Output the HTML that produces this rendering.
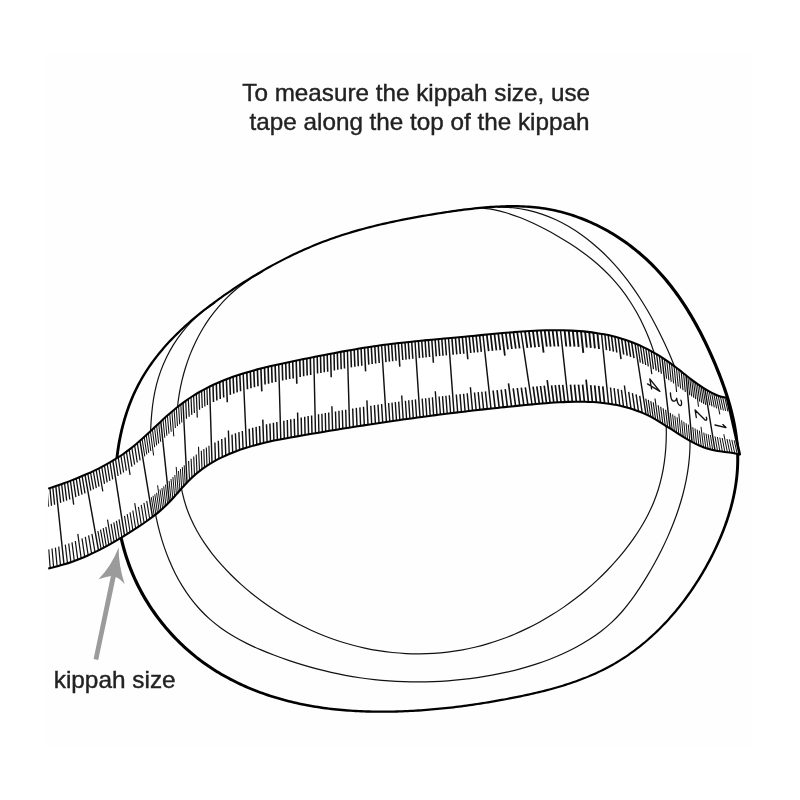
<!DOCTYPE html>
<html><head><meta charset="utf-8"><title>Kippah size</title>
<style>html,body{margin:0;padding:0;background:#fff;}body{width:800px;height:800px;overflow:hidden;font-family:"Liberation Sans",sans-serif;}svg{display:block;will-change:transform;}</style>
</head><body>
<svg width="800" height="800" viewBox="0 0 800 800">
<rect x="0" y="0" width="800" height="800" fill="#ffffff"/>
<rect x="46" y="52" width="706" height="696" fill="#fefefe"/>
<path d="M215.39 302.58C213.30 304.05 206.83 308.24 202.89 311.38C198.95 314.51 195.23 317.88 191.74 321.40C188.25 324.92 184.98 328.65 181.94 332.51C178.90 336.37 176.09 340.41 173.51 344.56C170.92 348.70 168.57 353.01 166.44 357.40C164.31 361.78 162.41 366.31 160.74 370.89C159.08 375.47 157.64 380.15 156.43 384.88C155.22 389.60 154.27 394.41 153.48 399.23C152.69 404.05 152.15 408.94 151.69 413.82C151.22 418.70 150.94 423.61 150.69 428.51C150.43 433.41 150.26 438.31 150.15 443.21C150.05 448.11 150.01 453.01 150.08 457.92C150.14 462.82 150.28 467.73 150.55 472.64C150.81 477.56 151.17 482.49 151.66 487.43C152.16 492.36 152.76 497.32 153.51 502.25C154.25 507.18 155.11 512.12 156.12 517.01C157.12 521.90 158.26 526.79 159.54 531.60C160.83 536.41 162.25 541.20 163.82 545.90C165.40 550.60 167.12 555.24 169.00 559.79C170.88 564.33 172.91 568.81 175.11 573.16C177.32 577.51 179.67 581.77 182.21 585.89C184.74 590.01 187.44 594.03 190.32 597.88C193.21 601.73 196.26 605.45 199.50 609.00C202.75 612.54 206.17 615.93 209.79 619.13C213.40 622.33 217.23 625.34 221.19 628.19C225.16 631.04 229.32 633.70 233.58 636.22C237.83 638.75 242.25 641.10 246.73 643.34C251.20 645.58 255.80 647.67 260.42 649.66C265.04 651.65 269.75 653.51 274.44 655.29C279.13 657.07 283.86 658.74 288.57 660.34C293.28 661.94 297.98 663.45 302.70 664.88C307.41 666.31 312.13 667.65 316.86 668.90C321.59 670.15 326.32 671.32 331.08 672.39C335.84 673.46 340.60 674.45 345.39 675.34C350.19 676.23 355.00 677.03 359.83 677.75C364.65 678.46 369.50 679.08 374.36 679.61C379.21 680.13 384.09 680.57 388.97 680.92C393.85 681.27 398.75 681.53 403.65 681.70C408.55 681.87 413.46 681.95 418.37 681.94C423.28 681.92 428.20 681.82 433.12 681.64C438.03 681.45 442.95 681.17 447.87 680.80C452.79 680.44 457.70 679.98 462.61 679.44C467.52 678.89 472.43 678.26 477.33 677.54C482.22 676.82 487.12 676.01 491.99 675.11C496.87 674.21 501.74 673.23 506.58 672.15C511.41 671.06 516.24 669.88 521.02 668.59C525.80 667.29 530.56 665.90 535.26 664.38C539.96 662.86 544.62 661.23 549.22 659.46C553.81 657.69 558.36 655.80 562.83 653.77C567.31 651.73 571.72 649.57 576.04 647.25C580.36 644.93 584.63 642.48 588.76 639.85C592.88 637.23 596.92 634.45 600.78 631.50C604.64 628.55 608.37 625.43 611.89 622.14C615.41 618.85 618.74 615.35 621.93 611.74C625.11 608.12 628.11 604.33 631.02 600.44C633.93 596.56 636.69 592.52 639.39 588.43C642.10 584.35 644.70 580.15 647.25 575.90C649.80 571.66 652.29 567.34 654.69 562.98C657.09 558.61 659.42 554.18 661.65 549.71C663.87 545.23 666.01 540.70 668.03 536.13C670.06 531.57 671.98 526.95 673.77 522.30C675.56 517.65 677.25 512.96 678.78 508.24C680.31 503.53 681.73 498.78 682.97 494.01C684.22 489.25 685.33 484.45 686.27 479.65C687.21 474.84 687.99 470.02 688.59 465.19C689.18 460.36 689.61 455.52 689.84 450.68C690.07 445.85 690.12 441.00 689.95 436.17C689.79 431.33 689.41 426.50 688.84 421.68C688.28 416.87 687.49 412.06 686.55 407.27C685.61 402.49 684.48 397.71 683.21 392.97C681.94 388.22 680.49 383.50 678.93 378.80C677.38 374.11 675.66 369.44 673.86 364.81C672.06 360.18 670.12 355.58 668.12 351.03C666.11 346.48 664.00 341.96 661.83 337.49C659.67 333.02 657.43 328.59 655.12 324.23C652.82 319.86 650.45 315.54 647.99 311.28C645.52 307.03 642.99 302.83 640.35 298.70C637.71 294.58 634.98 290.52 632.14 286.54C629.29 282.56 626.35 278.65 623.28 274.83C620.21 271.02 617.02 267.27 613.71 263.64C610.40 260.01 606.96 256.45 603.41 253.05C599.86 249.64 596.18 246.34 592.40 243.20C588.61 240.07 584.71 237.06 580.70 234.25C576.70 231.43 572.57 228.77 568.35 226.32C564.13 223.87 559.80 221.60 555.37 219.56C550.94 217.53 546.40 215.69 541.78 214.12C537.15 212.55 532.42 211.19 527.60 210.13C522.79 209.06 517.87 208.24 512.87 207.73C507.88 207.22 500.16 207.17 497.61 207.06" fill="none" stroke="#111" stroke-width="1.20"/>
<path d="M262.39 271.70C260.30 272.94 253.85 276.50 249.84 279.14C245.83 281.79 241.99 284.61 238.31 287.57C234.64 290.53 231.14 293.65 227.80 296.90C224.47 300.15 221.30 303.54 218.30 307.05C215.30 310.56 212.46 314.21 209.79 317.96C207.12 321.71 204.62 325.58 202.27 329.53C199.93 333.49 197.75 337.55 195.73 341.69C193.71 345.83 191.85 350.07 190.15 354.36C188.46 358.66 186.92 363.04 185.54 367.46C184.16 371.89 182.94 376.38 181.87 380.91C180.80 385.44 179.90 390.03 179.14 394.63C178.39 399.24 177.79 403.89 177.34 408.55C176.89 413.21 176.61 417.89 176.44 422.59C176.27 427.28 176.25 431.99 176.33 436.70C176.41 441.42 176.62 446.14 176.90 450.87C177.19 455.59 177.56 460.33 178.05 465.04C178.53 469.74 179.07 474.47 179.79 479.12C180.51 483.77 181.33 488.41 182.37 492.94C183.41 497.47 184.61 501.95 186.05 506.31C187.49 510.67 189.16 514.93 191.01 519.09C192.86 523.26 194.93 527.32 197.15 531.29C199.37 535.27 201.79 539.14 204.34 542.93C206.90 546.72 209.62 550.42 212.46 554.04C215.30 557.66 218.29 561.19 221.36 564.64C224.44 568.09 227.64 571.47 230.92 574.76C234.21 578.05 237.60 581.27 241.06 584.39C244.53 587.52 248.10 590.56 251.74 593.51C255.38 596.46 259.11 599.32 262.90 602.09C266.70 604.85 270.58 607.53 274.52 610.10C278.46 612.67 282.47 615.15 286.54 617.52C290.61 619.89 294.74 622.16 298.93 624.32C303.11 626.47 307.35 628.53 311.63 630.47C315.91 632.41 320.25 634.24 324.61 635.95C328.98 637.66 333.39 639.25 337.83 640.73C342.27 642.20 346.74 643.55 351.24 644.78C355.73 646.01 360.26 647.11 364.80 648.09C369.34 649.07 373.91 649.93 378.49 650.66C383.06 651.39 387.66 652.00 392.26 652.48C396.85 652.96 401.47 653.31 406.08 653.53C410.69 653.76 415.31 653.86 419.92 653.83C424.53 653.80 429.15 653.64 433.75 653.35C438.35 653.07 442.94 652.65 447.52 652.10C452.10 651.56 456.67 650.88 461.22 650.07C465.76 649.26 470.29 648.32 474.79 647.25C479.29 646.18 483.77 644.98 488.22 643.65C492.66 642.32 497.08 640.86 501.46 639.29C505.83 637.71 510.18 636.01 514.48 634.20C518.78 632.39 523.04 630.45 527.25 628.41C531.46 626.37 535.63 624.21 539.74 621.95C543.85 619.69 547.91 617.32 551.90 614.85C555.90 612.38 559.85 609.80 563.72 607.13C567.59 604.47 571.41 601.69 575.15 598.84C578.89 595.98 582.57 593.02 586.16 589.98C589.76 586.94 593.28 583.81 596.72 580.60C600.16 577.39 603.53 574.10 606.80 570.73C610.07 567.36 613.26 563.91 616.35 560.38C619.44 556.86 622.46 553.27 625.35 549.60C628.23 545.93 631.03 542.19 633.69 538.38C636.34 534.57 638.88 530.69 641.26 526.73C643.64 522.78 645.90 518.76 647.97 514.66C650.04 510.57 651.97 506.40 653.70 502.17C655.43 497.94 656.98 493.63 658.34 489.26C659.70 484.89 660.86 480.45 661.85 475.96C662.84 471.48 663.64 466.93 664.29 462.35C664.94 457.77 665.42 453.14 665.75 448.50C666.09 443.85 666.26 439.17 666.30 434.48C666.35 429.79 666.25 425.08 666.03 420.38C665.82 415.68 665.47 410.96 665.01 406.27C664.55 401.57 663.97 396.88 663.27 392.22C662.56 387.56 661.74 382.90 660.79 378.29C659.84 373.68 658.76 369.10 657.56 364.56C656.35 360.02 655.03 355.52 653.57 351.08C652.11 346.64 650.52 342.24 648.80 337.92C647.08 333.59 645.23 329.32 643.24 325.14C641.26 320.95 639.14 316.83 636.88 312.80C634.63 308.78 632.24 304.83 629.71 300.98C627.18 297.14 624.51 293.38 621.70 289.73C618.89 286.09 615.95 282.55 612.86 279.13C609.76 275.71 606.52 272.40 603.16 269.22C599.80 266.03 596.29 262.97 592.68 260.01C589.08 257.05 585.35 254.20 581.55 251.45C577.74 248.70 573.83 246.07 569.87 243.52C565.91 240.97 561.85 238.52 557.77 236.16C553.69 233.79 549.54 231.52 545.37 229.34C541.21 227.15 537.00 225.02 532.77 223.05C528.54 221.08 524.28 219.19 519.98 217.51C515.68 215.82 511.35 214.26 506.97 212.95C502.60 211.63 498.19 210.48 493.74 209.62C489.29 208.76 482.52 208.08 480.27 207.77" fill="none" stroke="#111" stroke-width="1.20"/>
<path d="M117.01 490.10L116.97 487.38L116.95 484.66L116.97 481.94L117.01 479.22L117.09 476.50L117.19 473.78L117.32 471.06L117.49 468.34L117.68 465.63L117.90 462.91L118.15 460.20L118.44 457.49L118.75 454.79L119.10 452.09L119.47 449.40L119.88 446.71L120.31 444.03L120.78 441.36L121.28 438.69L121.82 436.03L122.38 433.38L122.98 430.74L123.60 428.11L124.27 425.50L124.96 422.89L125.69 420.30L126.44 417.71L127.24 415.14L128.06 412.58L128.92 410.04L129.81 407.52L130.74 405.00L131.70 402.50L132.69 400.02L133.72 397.56L134.78 395.12L135.88 392.69L137.01 390.28L138.18 387.89L139.38 385.52L140.61 383.17L141.88 380.84L143.19 378.54L144.53 376.25L145.91 373.99L147.32 371.74L148.77 369.52L150.24 367.31L151.75 365.13L153.29 362.97L154.86 360.82L156.46 358.70L158.09 356.59L159.75 354.50L161.44 352.43L163.15 350.38L164.89 348.35L166.66 346.34L168.46 344.35L170.28 342.37L172.12 340.41L173.98 338.47L175.87 336.54L177.79 334.64L179.72 332.74L181.68 330.87L183.65 329.01L185.64 327.17L187.66 325.35L189.70 323.54L191.75 321.74L193.81 319.97L195.90 318.20L198.00 316.46L200.12 314.72L202.25 313.01L204.40 311.30L206.55 309.61L208.72 307.94L210.91 306.28L213.10 304.63L215.31 303.00L217.53 301.38L219.75 299.77L221.99 298.17L224.23 296.59L226.48 295.02L228.74 293.47L231.01 291.92L233.28 290.39L235.55 288.87L237.84 287.36L240.12 285.87L242.42 284.39L244.72 282.92L247.02 281.46L249.33 280.02L251.65 278.59L253.97 277.17L256.30 275.76L258.64 274.38L260.98 273.00L263.33 271.64L265.68 270.29L268.04 268.96L270.40 267.64L272.78 266.34L275.15 265.05L277.54 263.77L279.93 262.51L282.32 261.27L284.73 260.04L287.13 258.83L289.55 257.63L291.97 256.45L294.40 255.29L296.83 254.14L299.27 253.00L301.72 251.89L304.17 250.79L306.63 249.71L309.10 248.64L311.57 247.59L314.05 246.56L316.54 245.54L319.03 244.55L321.53 243.57L324.03 242.61L326.55 241.66L329.07 240.74L331.59 239.83L334.12 238.94L336.66 238.07L339.21 237.21L341.76 236.37L344.32 235.55L346.88 234.74L349.45 233.95L352.03 233.18L354.61 232.42L357.20 231.67L359.79 230.94L362.39 230.23L364.99 229.53L367.60 228.84L370.21 228.16L372.83 227.50L375.45 226.86L378.08 226.22L380.71 225.59L383.35 224.98L385.99 224.38L388.63 223.79L391.28 223.22L393.93 222.65L396.59 222.09L399.25 221.55L401.91 221.01L404.58 220.48L407.25 219.97L409.92 219.46L412.59 218.96L415.27 218.46L417.95 217.98L420.64 217.50L423.32 217.04L426.01 216.57L428.70 216.12L431.39 215.67L434.09 215.22L436.78 214.79L439.48 214.36L442.18 213.93L444.88 213.52L447.58 213.11L450.29 212.71L452.99 212.32L455.70 211.93L458.40 211.56L461.11 211.20L463.81 210.85L466.52 210.51L469.23 210.19L471.94 209.88L474.65 209.58L477.36 209.30L480.07 209.04L482.78 208.79L485.49 208.56L488.20 208.34L490.90 208.15L493.61 207.97L496.32 207.82L499.03 207.69L501.74 207.57L504.44 207.48L507.14 207.42L509.84 207.39L512.54 207.38L515.24 207.40L517.93 207.45L520.62 207.52L523.30 207.63L525.98 207.78L528.66 207.96L531.33 208.17L533.99 208.42L536.65 208.70L539.30 209.03L541.95 209.39L544.58 209.80L547.22 210.25L549.84 210.74L552.46 211.26L555.07 211.83L557.67 212.44L560.26 213.08L562.84 213.77L565.42 214.50L567.98 215.26L570.54 216.07L573.08 216.91L575.61 217.78L578.13 218.70L580.64 219.65L583.13 220.63L585.61 221.65L588.08 222.71L590.53 223.80L592.97 224.92L595.40 226.08L597.81 227.28L600.20 228.50L602.58 229.76L604.94 231.05L607.29 232.37L609.61 233.72L611.92 235.11L614.22 236.52L616.49 237.96L618.74 239.44L620.97 240.94L623.19 242.47L625.38 244.03L627.55 245.62L629.70 247.24L631.83 248.88L633.94 250.55L636.02 252.24L638.09 253.97L640.12 255.71L642.14 257.48L644.12 259.28L646.09 261.10L648.03 262.95L649.94 264.82L651.83 266.71L653.70 268.62L655.55 270.56L657.36 272.51L659.16 274.50L660.93 276.50L662.68 278.52L664.41 280.56L666.12 282.63L667.80 284.71L669.46 286.81L671.10 288.93L672.72 291.08L674.32 293.23L675.90 295.41L677.45 297.60L678.98 299.81L680.50 302.04L681.99 304.29L683.47 306.55L684.93 308.82L686.36 311.11L687.78 313.42L689.18 315.74L690.56 318.08L691.92 320.42L693.27 322.78L694.59 325.16L695.90 327.54L697.19 329.94L698.46 332.36L699.72 334.78L700.96 337.21L702.19 339.65L703.39 342.11L704.58 344.57L705.76 347.05L706.92 349.53L708.07 352.02L709.20 354.51L710.31 357.02L711.41 359.54L712.50 362.06L713.57 364.58L714.62 367.12L715.67 369.66L716.69 372.20L717.70 374.75L718.70 377.31L719.66 379.87L720.62 382.43L721.55 385.00L722.46 387.58L723.36 390.15L724.22 392.73L725.06 395.32L725.88 397.91L726.68 400.50L727.45 403.10L728.19 405.70L728.91 408.30L729.59 410.90L730.25 413.51L730.88 416.12L731.48 418.73L732.05 421.34L732.58 423.96L733.08 426.57L733.55 429.19L733.98 431.81L734.38 434.43L734.74 437.05L735.07 439.68L735.35 442.30L735.60 444.92L735.81 447.55L735.98 450.17L736.11 452.80L736.20 455.42L736.24 458.05L736.24 460.67L736.20 463.29L736.11 465.92L735.99 468.54L735.82 471.17L735.62 473.79L735.37 476.41L735.08 479.03L734.76 481.65L734.39 484.27L733.99 486.88L733.55 489.50L733.07 492.10L732.55 494.71L732.00 497.31L731.41 499.91L730.79 502.51L730.14 505.10L729.45 507.68L728.73 510.26L727.97 512.84L727.18 515.41L726.36 517.98L725.51 520.54L724.63 523.09L723.72 525.64L722.78 528.18L721.81 530.71L720.81 533.24L719.78 535.76L718.73 538.27L717.65 540.77L716.54 543.26L715.41 545.75L714.25 548.22L713.07 550.69L711.87 553.15L710.64 555.59L709.39 558.03L708.11 560.46L706.82 562.87L705.50 565.28L704.16 567.67L702.80 570.05L701.42 572.42L700.02 574.78L698.60 577.12L697.15 579.45L695.69 581.76L694.20 584.06L692.70 586.35L691.17 588.62L689.63 590.88L688.06 593.12L686.48 595.34L684.87 597.55L683.24 599.74L681.59 601.92L679.93 604.07L678.24 606.21L676.53 608.32L674.81 610.42L673.06 612.51L671.29 614.57L669.51 616.61L667.70 618.63L665.88 620.63L664.03 622.60L662.17 624.56L660.28 626.50L658.38 628.41L656.46 630.30L654.52 632.16L652.56 634.01L650.58 635.83L648.58 637.62L646.56 639.39L644.53 641.14L642.47 642.85L640.40 644.55L638.31 646.22L636.20 647.86L634.07 649.47L631.92 651.06L629.75 652.61L627.57 654.14L625.37 655.65L623.15 657.12L620.91 658.56L618.65 659.97L616.38 661.36L614.09 662.71L611.77 664.03L609.45 665.32L607.10 666.58L604.74 667.81L602.36 669.02L599.97 670.19L597.55 671.33L595.12 672.44L592.68 673.53L590.23 674.59L587.76 675.63L585.27 676.64L582.77 677.62L580.26 678.58L577.74 679.52L575.21 680.43L572.66 681.32L570.11 682.19L567.54 683.04L564.96 683.86L562.38 684.67L559.78 685.46L557.18 686.22L554.57 686.97L551.95 687.70L549.32 688.41L546.69 689.10L544.05 689.78L541.41 690.45L538.76 691.09L536.10 691.73L533.44 692.34L530.77 692.95L528.11 693.54L525.44 694.12L522.77 694.69L520.09 695.24L517.41 695.79L514.73 696.32L512.05 696.85L509.38 697.37L506.70 697.88L504.02 698.38L501.34 698.87L498.66 699.35L495.98 699.82L493.31 700.29L490.63 700.74L487.95 701.19L485.28 701.63L482.60 702.06L479.93 702.48L477.25 702.89L474.58 703.29L471.90 703.69L469.23 704.07L466.55 704.44L463.87 704.80L461.20 705.16L458.52 705.50L455.84 705.83L453.16 706.15L450.49 706.47L447.81 706.77L445.13 707.06L442.44 707.34L439.76 707.60L437.08 707.86L434.40 708.11L431.71 708.34L429.02 708.57L426.34 708.78L423.65 708.98L420.96 709.17L418.26 709.35L415.57 709.51L412.88 709.66L410.18 709.80L407.48 709.93L404.78 710.05L402.08 710.15L399.37 710.24L396.67 710.32L393.96 710.39L391.25 710.44L388.54 710.48L385.82 710.50L383.11 710.51L380.39 710.51L377.68 710.49L374.96 710.46L372.24 710.42L369.52 710.35L366.81 710.27L364.09 710.18L361.37 710.07L358.65 709.94L355.94 709.80L353.22 709.64L350.51 709.46L347.80 709.26L345.09 709.05L342.38 708.82L339.67 708.57L336.97 708.30L334.27 708.01L331.57 707.70L328.88 707.38L326.18 707.03L323.50 706.66L320.81 706.28L318.13 705.87L315.46 705.44L312.78 704.99L310.12 704.51L307.45 704.02L304.80 703.50L302.15 702.96L299.50 702.40L296.86 701.82L294.22 701.21L291.59 700.58L288.97 699.93L286.36 699.25L283.75 698.54L281.15 697.82L278.56 697.07L275.98 696.30L273.41 695.50L270.84 694.68L268.29 693.83L265.74 692.96L263.21 692.06L260.68 691.14L258.17 690.20L255.66 689.23L253.17 688.23L250.69 687.21L248.23 686.16L245.77 685.09L243.33 683.99L240.90 682.86L238.49 681.71L236.09 680.53L233.70 679.33L231.33 678.10L228.97 676.85L226.63 675.56L224.30 674.25L221.99 672.91L219.70 671.55L217.42 670.16L215.16 668.74L212.91 667.29L210.69 665.81L208.48 664.31L206.29 662.78L204.12 661.22L201.97 659.64L199.83 658.02L197.72 656.38L195.63 654.70L193.55 653.00L191.50 651.27L189.47 649.51L187.46 647.73L185.47 645.92L183.50 644.08L181.55 642.21L179.63 640.32L177.73 638.40L175.85 636.46L174.00 634.49L172.17 632.50L170.36 630.49L168.58 628.45L166.83 626.39L165.10 624.31L163.40 622.21L161.72 620.08L160.07 617.93L158.45 615.76L156.86 613.58L155.29 611.37L153.75 609.15L152.24 606.90L150.76 604.64L149.31 602.36L147.89 600.06L146.50 597.75L145.14 595.42L143.81 593.07L142.51 590.71L141.24 588.33L140.01 585.93L138.81 583.53L137.64 581.11L136.50 578.68L135.40 576.23L134.33 573.77L133.29 571.30L132.29 568.81L131.32 566.32L130.39 563.81L129.48 561.29L128.62 558.76L127.78 556.22L126.97 553.67L126.20 551.11L125.46 548.54L124.75 545.96L124.08 543.37L123.43 540.77L122.82 538.17L122.24 535.55L121.69 532.93L121.17 530.30L120.68 527.66L120.22 525.01L119.79 522.36L119.40 519.70L119.03 517.03L118.70 514.36L118.39 511.68L118.12 509.00L117.87 506.31L117.65 503.62L117.46 500.92L117.31 498.22L117.18 495.52L117.08 492.81Z M113.99 490.15L113.96 487.41L113.95 484.66L113.98 481.90L114.03 479.15L114.12 476.40L114.23 473.65L114.38 470.90L114.56 468.15L114.76 465.40L115.00 462.65L115.26 459.91L115.56 457.17L115.89 454.44L116.25 451.71L116.64 448.98L117.07 446.26L117.52 443.55L118.01 440.85L118.53 438.15L119.08 435.46L119.67 432.78L120.28 430.11L120.93 427.45L121.62 424.80L122.33 422.17L123.08 419.54L123.87 416.93L124.68 414.33L125.53 411.74L126.42 409.17L127.34 406.61L128.29 404.07L129.28 401.55L130.30 399.04L131.35 396.54L132.45 394.07L133.57 391.62L134.74 389.18L135.93 386.77L137.17 384.37L138.43 382.00L139.74 379.64L141.08 377.31L142.45 375.00L143.86 372.71L145.30 370.45L146.78 368.20L148.28 365.97L149.82 363.77L151.39 361.59L152.99 359.42L154.62 357.28L156.28 355.16L157.96 353.05L159.67 350.97L161.41 348.90L163.18 346.86L164.97 344.83L166.79 342.83L168.63 340.83L170.49 338.86L172.38 336.91L174.30 334.97L176.23 333.05L178.18 331.15L180.16 329.27L182.15 327.40L184.16 325.55L186.20 323.71L188.25 321.90L190.32 320.09L192.40 318.31L194.50 316.54L196.62 314.78L198.75 313.04L200.90 311.32L203.06 309.61L205.23 307.91L207.41 306.23L209.61 304.56L211.82 302.91L214.04 301.27L216.27 299.64L218.50 298.03L220.75 296.43L223.00 294.84L225.26 293.27L227.53 291.70L229.81 290.15L232.09 288.62L234.37 287.09L236.66 285.58L238.96 284.08L241.27 282.59L243.58 281.12L245.89 279.66L248.21 278.21L250.54 276.77L252.87 275.35L255.21 273.94L257.56 272.55L259.91 271.17L262.27 269.80L264.63 268.45L267.00 267.11L269.38 265.78L271.76 264.47L274.15 263.18L276.54 261.90L278.95 260.64L281.35 259.39L283.77 258.15L286.19 256.93L288.61 255.73L291.05 254.54L293.49 253.37L295.93 252.22L298.39 251.08L300.85 249.95L303.31 248.85L305.78 247.76L308.26 246.69L310.75 245.63L313.24 244.59L315.74 243.57L318.25 242.57L320.76 241.58L323.28 240.61L325.80 239.66L328.34 238.73L330.87 237.82L333.42 236.92L335.97 236.04L338.53 235.17L341.10 234.33L343.67 233.50L346.24 232.69L348.82 231.89L351.41 231.11L354.01 230.34L356.60 229.60L359.21 228.86L361.82 228.14L364.43 227.43L367.05 226.74L369.67 226.06L372.30 225.39L374.93 224.74L377.57 224.10L380.21 223.47L382.86 222.85L385.51 222.25L388.16 221.66L390.82 221.07L393.48 220.50L396.14 219.94L398.81 219.39L401.48 218.85L404.15 218.32L406.83 217.80L409.51 217.29L412.19 216.78L414.87 216.29L417.56 215.80L420.25 215.32L422.94 214.85L425.64 214.39L428.33 213.93L431.03 213.48L433.73 213.03L436.43 212.59L439.13 212.16L441.84 211.73L444.55 211.31L447.25 210.90L449.96 210.50L452.67 210.10L455.39 209.71L458.10 209.34L460.82 208.97L463.53 208.62L466.25 208.28L468.97 207.95L471.69 207.63L474.41 207.33L477.13 207.05L479.85 206.78L482.57 206.52L485.30 206.28L488.02 206.06L490.75 205.86L493.47 205.68L496.20 205.52L498.92 205.38L501.65 205.26L504.37 205.16L507.10 205.09L509.82 205.05L512.54 205.03L515.26 205.04L517.98 205.08L520.70 205.14L523.41 205.24L526.12 205.38L528.83 205.55L531.53 205.75L534.23 205.99L536.92 206.26L539.61 206.57L542.30 206.93L544.98 207.33L547.65 207.77L550.32 208.24L552.98 208.76L555.63 209.32L558.27 209.92L560.90 210.56L563.53 211.24L566.15 211.96L568.75 212.72L571.35 213.52L573.93 214.36L576.50 215.23L579.07 216.14L581.62 217.09L584.15 218.08L586.68 219.10L589.18 220.16L591.68 221.25L594.16 222.38L596.63 223.54L599.08 224.74L601.51 225.97L603.93 227.23L606.33 228.52L608.72 229.85L611.09 231.21L613.44 232.61L615.77 234.03L618.08 235.48L620.37 236.97L622.64 238.48L624.90 240.03L627.13 241.60L629.34 243.20L631.53 244.83L633.69 246.49L635.84 248.17L637.96 249.88L640.06 251.62L642.13 253.39L644.18 255.18L646.21 256.99L648.21 258.84L650.18 260.70L652.13 262.59L654.06 264.51L655.96 266.44L657.83 268.40L659.68 270.38L661.51 272.39L663.31 274.41L665.09 276.46L666.84 278.52L668.58 280.61L670.29 282.72L671.97 284.85L673.64 286.99L675.28 289.16L676.90 291.34L678.50 293.54L680.08 295.76L681.63 297.99L683.16 300.25L684.68 302.52L686.17 304.80L687.65 307.10L689.10 309.41L690.53 311.74L691.95 314.09L693.34 316.44L694.72 318.81L696.08 321.20L697.42 323.59L698.74 326.00L700.04 328.43L701.32 330.86L702.59 333.30L703.84 335.75L705.08 338.22L706.30 340.69L707.50 343.18L708.68 345.67L709.85 348.17L711.00 350.68L712.14 353.19L713.26 355.72L714.37 358.25L715.46 360.79L716.54 363.34L717.60 365.89L718.65 368.44L719.68 371.01L720.70 373.58L721.70 376.16L722.68 378.74L723.63 381.32L724.57 383.92L725.49 386.51L726.39 389.12L727.27 391.73L728.11 394.34L728.94 396.96L729.74 399.58L730.51 402.21L731.26 404.84L731.98 407.47L732.67 410.11L733.33 412.75L733.96 415.39L734.56 418.04L735.13 420.69L735.67 423.35L736.17 426.01L736.63 428.66L737.06 431.33L737.46 433.99L737.82 436.66L738.14 439.32L738.42 441.99L738.66 444.66L738.86 447.33L739.02 450.01L739.14 452.68L739.22 455.35L739.25 458.03L739.23 460.70L739.17 463.37L739.07 466.05L738.93 468.72L738.75 471.38L738.52 474.05L738.26 476.71L737.95 479.38L737.60 482.04L737.21 484.69L736.79 487.34L736.33 489.99L735.83 492.64L735.29 495.28L734.72 497.91L734.11 500.55L733.46 503.17L732.79 505.79L732.08 508.41L731.33 511.02L730.55 513.62L729.74 516.22L728.90 518.81L728.03 521.40L727.13 523.97L726.19 526.54L725.23 529.11L724.24 531.66L723.22 534.21L722.17 536.75L721.10 539.28L720.00 541.80L718.87 544.31L717.72 546.82L716.54 549.31L715.34 551.79L714.12 554.27L712.87 556.73L711.60 559.18L710.30 561.63L708.99 564.06L707.65 566.47L706.30 568.88L704.92 571.28L703.52 573.66L702.10 576.03L700.66 578.39L699.19 580.73L697.71 583.06L696.21 585.37L694.68 587.67L693.14 589.96L691.57 592.23L689.99 594.48L688.38 596.72L686.75 598.94L685.10 601.14L683.44 603.33L681.75 605.50L680.04 607.65L678.31 609.78L676.57 611.89L674.80 613.99L673.01 616.06L671.20 618.11L669.37 620.14L667.53 622.16L665.66 624.15L663.78 626.12L661.87 628.06L659.94 629.99L658.00 631.89L656.04 633.77L654.05 635.62L652.05 637.45L650.03 639.26L647.99 641.04L645.93 642.80L643.85 644.53L641.76 646.23L639.64 647.92L637.51 649.57L635.35 651.20L633.18 652.79L630.99 654.36L628.79 655.90L626.56 657.42L624.31 658.90L622.05 660.36L619.77 661.79L617.47 663.18L615.15 664.54L612.81 665.88L610.46 667.18L608.09 668.45L605.71 669.70L603.30 670.91L600.88 672.10L598.45 673.25L596.00 674.38L593.54 675.47L591.06 676.55L588.57 677.60L586.06 678.62L583.55 679.61L581.02 680.58L578.48 681.52L575.93 682.45L573.36 683.35L570.79 684.23L568.20 685.08L565.61 685.91L563.01 686.73L560.40 687.52L557.78 688.30L555.16 689.05L552.52 689.79L549.88 690.50L547.24 691.20L544.59 691.89L541.93 692.56L539.27 693.21L536.60 693.85L533.93 694.47L531.25 695.08L528.58 695.68L525.90 696.27L523.22 696.84L520.53 697.40L517.85 697.94L515.16 698.48L512.48 699.01L509.79 699.53L507.11 700.05L504.42 700.55L501.74 701.04L499.05 701.53L496.37 702.00L493.68 702.47L491.00 702.93L488.32 703.38L485.64 703.83L482.95 704.26L480.27 704.68L477.59 705.10L474.91 705.50L472.22 705.90L469.54 706.28L466.86 706.66L464.17 707.03L461.49 707.38L458.80 707.73L456.12 708.07L453.43 708.39L450.74 708.71L448.06 709.01L445.37 709.31L442.68 709.59L439.99 709.86L437.29 710.12L434.60 710.37L431.91 710.61L429.21 710.84L426.51 711.06L423.81 711.26L421.11 711.46L418.41 711.64L415.71 711.81L413.00 711.96L410.30 712.11L407.59 712.24L404.88 712.36L402.16 712.47L399.45 712.56L396.73 712.65L394.01 712.72L391.29 712.77L388.57 712.82L385.84 712.85L383.11 712.86L380.39 712.86L377.66 712.85L374.93 712.82L372.20 712.78L369.46 712.73L366.73 712.65L364.00 712.56L361.27 712.46L358.54 712.34L355.80 712.20L353.07 712.04L350.35 711.87L347.62 711.68L344.89 711.47L342.17 711.24L339.44 711.00L336.72 710.74L334.00 710.45L331.29 710.15L328.57 709.83L325.86 709.49L323.15 709.13L320.45 708.74L317.75 708.34L315.05 707.91L312.36 707.47L309.67 707.00L306.98 706.51L304.30 706.00L301.63 705.47L298.96 704.91L296.30 704.33L293.64 703.72L290.98 703.10L288.34 702.45L285.70 701.77L283.07 701.08L280.44 700.35L277.82 699.61L275.21 698.84L272.61 698.04L270.02 697.22L267.44 696.38L264.86 695.51L262.30 694.61L259.74 693.70L257.20 692.75L254.66 691.78L252.14 690.78L249.63 689.76L247.13 688.71L244.65 687.64L242.17 686.54L239.71 685.41L237.26 684.26L234.83 683.08L232.41 681.87L230.00 680.64L227.61 679.37L225.23 678.08L222.87 676.77L220.53 675.42L218.19 674.05L215.88 672.65L213.58 671.22L211.30 669.77L209.04 668.28L206.80 666.77L204.57 665.22L202.36 663.65L200.17 662.05L198.00 660.42L195.85 658.76L193.72 657.07L191.60 655.35L189.51 653.61L187.44 651.83L185.40 650.03L183.37 648.20L181.37 646.34L179.39 644.45L177.43 642.53L175.49 640.59L173.58 638.63L171.70 636.64L169.84 634.63L168.00 632.58L166.19 630.52L164.40 628.43L162.65 626.33L160.91 624.20L159.21 622.04L157.53 619.87L155.88 617.67L154.26 615.45L152.66 613.21L151.10 610.96L149.57 608.68L148.06 606.39L146.58 604.07L145.14 601.74L143.72 599.39L142.34 597.03L140.99 594.64L139.67 592.24L138.38 589.83L137.13 587.40L135.91 584.95L134.72 582.49L133.57 580.02L132.45 577.53L131.36 575.03L130.31 572.52L129.30 570.00L128.32 567.46L127.37 564.91L126.46 562.35L125.58 559.78L124.73 557.20L123.92 554.61L123.14 552.01L122.39 549.40L121.68 546.78L121.00 544.15L120.35 541.51L119.73 538.87L119.15 536.21L118.60 533.55L118.08 530.88L117.59 528.20L117.14 525.52L116.71 522.83L116.32 520.14L115.95 517.43L115.62 514.73L115.32 512.01L115.05 509.29L114.81 506.57L114.60 503.85L114.42 501.11L114.27 498.38L114.15 495.64L114.05 492.90Z" fill="#000" fill-rule="evenodd" stroke="none"/>
<defs><clipPath id="tc"><path d="M48.20 488.60L48.80 488.40L49.60 488.14L50.55 487.82L51.61 487.47L52.73 487.10L53.86 486.72L54.96 486.35L55.99 486.00L56.96 485.67L57.94 485.33L58.91 484.99L59.89 484.65L60.86 484.30L61.83 483.95L62.81 483.60L63.78 483.25L64.75 482.90L65.72 482.54L66.69 482.19L67.66 481.82L68.63 481.46L69.60 481.10L70.57 480.73L71.53 480.36L72.50 479.98L73.46 479.61L74.43 479.23L75.39 478.85L76.35 478.46L77.31 478.08L78.27 477.69L79.23 477.30L80.19 476.90L81.14 476.50L82.10 476.10L83.05 475.69L84.00 475.29L84.95 474.88L85.90 474.46L86.85 474.04L87.79 473.62L88.74 473.20L89.68 472.77L90.62 472.34L91.56 471.91L92.50 471.47L93.43 471.03L94.36 470.58L95.29 470.13L96.22 469.68L97.15 469.23L98.07 468.77L99.00 468.30L99.92 467.84L100.83 467.37L101.75 466.89L102.66 466.41L103.57 465.93L104.48 465.44L105.39 464.95L106.29 464.46L107.19 463.96L108.09 463.45L108.98 462.95L109.88 462.43L110.77 461.92L111.65 461.40L112.54 460.87L113.42 460.34L114.30 459.81L115.17 459.27L116.05 458.73L116.91 458.18L117.78 457.63L118.64 457.07L119.50 456.51L120.36 455.95L121.21 455.38L122.06 454.80L122.91 454.22L123.75 453.63L124.59 453.04L125.43 452.45L126.26 451.85L127.09 451.24L127.91 450.63L128.73 450.01L129.55 449.39L130.37 448.77L131.18 448.13L131.98 447.50L132.78 446.86L133.58 446.21L134.38 445.56L135.17 444.90L135.96 444.25L136.75 443.58L137.54 442.92L138.32 442.25L139.10 441.57L139.87 440.89L140.65 440.21L141.42 439.53L142.19 438.85L142.96 438.16L143.72 437.47L144.49 436.77L145.25 436.07L146.01 435.38L146.77 434.68L147.53 433.97L148.29 433.27L149.05 432.57L149.80 431.86L150.56 431.15L151.31 430.45L152.07 429.74L152.82 429.03L153.57 428.32L154.33 427.61L155.08 426.90L155.84 426.19L156.59 425.48L157.34 424.77L158.10 424.06L158.85 423.35L159.61 422.64L160.36 421.94L161.12 421.24L161.88 420.53L162.64 419.83L163.40 419.13L164.16 418.43L164.93 417.73L165.69 417.04L166.46 416.35L167.23 415.66L168.00 414.97L168.78 414.29L169.55 413.61L170.33 412.93L171.11 412.26L171.89 411.58L172.68 410.92L173.47 410.26L174.26 409.60L175.05 408.94L175.85 408.29L176.65 407.64L177.46 407.00L178.26 406.36L179.08 405.73L179.89 405.10L180.71 404.48L181.53 403.86L182.35 403.24L183.18 402.63L184.01 402.03L184.84 401.43L185.67 400.83L186.51 400.24L187.35 399.65L188.20 399.07L189.05 398.50L189.90 397.93L190.75 397.36L191.61 396.80L192.47 396.24L193.33 395.69L194.20 395.15L195.07 394.61L195.94 394.07L196.81 393.54L197.69 393.02L198.57 392.50L199.46 391.99L200.34 391.48L201.23 390.98L202.13 390.48L203.02 389.99L203.92 389.51L204.82 389.03L205.72 388.55L206.63 388.08L207.54 387.62L208.45 387.16L209.36 386.70L210.28 386.26L211.20 385.81L212.12 385.37L213.05 384.94L213.97 384.51L214.90 384.08L215.83 383.67L216.77 383.25L217.70 382.84L218.64 382.43L219.58 382.03L220.52 381.64L221.47 381.24L222.42 380.86L223.36 380.47L224.32 380.09L225.27 379.72L226.23 379.35L227.18 378.98L228.14 378.62L229.10 378.26L230.07 377.90L231.03 377.55L232.00 377.21L232.97 376.86L233.94 376.52L234.91 376.19L235.89 375.86L236.86 375.53L237.84 375.20L238.82 374.88L239.80 374.56L240.78 374.25L241.76 373.94L242.75 373.63L243.73 373.32L244.72 373.02L245.71 372.72L246.70 372.43L247.69 372.14L248.69 371.85L249.68 371.56L250.68 371.28L251.68 371.00L252.67 370.72L253.67 370.44L254.67 370.17L255.67 369.90L256.68 369.63L257.68 369.37L258.69 369.10L259.69 368.84L260.70 368.58L261.70 368.33L262.71 368.07L263.72 367.82L264.73 367.57L265.74 367.33L266.75 367.08L267.76 366.84L268.78 366.60L269.79 366.36L270.80 366.12L271.82 365.88L272.83 365.65L273.85 365.42L274.86 365.19L275.88 364.96L276.89 364.73L277.91 364.50L278.93 364.28L279.95 364.05L280.96 363.83L281.98 363.61L283.00 363.39L284.02 363.17L285.04 362.95L286.05 362.73L287.07 362.52L288.09 362.30L289.11 362.09L290.13 361.88L291.15 361.66L292.17 361.45L293.19 361.24L294.20 361.03L295.22 360.82L296.24 360.61L297.26 360.40L298.27 360.19L299.29 359.98L300.31 359.78L301.32 359.57L302.34 359.36L303.36 359.15L304.37 358.95L305.39 358.74L306.40 358.53L307.41 358.33L308.43 358.12L309.44 357.92L310.46 357.71L311.47 357.51L312.48 357.30L313.49 357.10L314.51 356.90L315.52 356.69L316.53 356.49L317.54 356.29L318.55 356.09L319.57 355.89L320.58 355.69L321.59 355.49L322.60 355.29L323.61 355.09L324.62 354.89L325.63 354.69L326.64 354.50L327.65 354.30L328.66 354.11L329.67 353.91L330.68 353.72L331.69 353.52L332.70 353.33L333.71 353.14L334.72 352.95L335.73 352.76L336.74 352.57L337.75 352.38L338.76 352.19L339.77 352.00L340.77 351.82L341.78 351.63L342.79 351.45L343.80 351.26L344.81 351.08L345.82 350.90L346.83 350.72L347.84 350.54L348.85 350.36L349.86 350.18L350.87 350.00L351.88 349.83L352.89 349.65L353.90 349.48L354.91 349.31L355.92 349.13L356.93 348.96L357.95 348.79L358.96 348.63L359.97 348.46L360.98 348.29L361.99 348.13L363.00 347.96L364.02 347.80L365.03 347.64L366.04 347.48L367.05 347.32L368.07 347.16L369.08 347.01L370.09 346.85L371.11 346.70L372.12 346.55L373.14 346.40L374.15 346.25L375.17 346.10L376.18 345.95L377.20 345.81L378.22 345.66L379.23 345.52L380.25 345.38L381.27 345.24L382.29 345.10L383.30 344.96L384.32 344.83L385.34 344.69L386.36 344.56L387.38 344.43L388.40 344.30L389.42 344.17L390.44 344.04L391.47 343.91L392.49 343.79L393.51 343.67L394.53 343.54L395.55 343.42L396.58 343.30L397.60 343.18L398.62 343.06L399.65 342.94L400.67 342.83L401.69 342.71L402.72 342.60L403.74 342.49L404.77 342.37L405.79 342.26L406.82 342.15L407.84 342.04L408.87 341.93L409.90 341.82L410.92 341.72L411.95 341.61L412.98 341.51L414.00 341.40L415.03 341.30L416.06 341.19L417.09 341.09L418.11 340.99L419.14 340.89L420.17 340.79L421.20 340.69L422.23 340.59L423.26 340.49L424.28 340.39L425.31 340.29L426.34 340.19L427.37 340.10L428.40 340.00L429.43 339.90L430.46 339.81L431.49 339.71L432.52 339.62L433.55 339.52L434.58 339.43L435.61 339.33L436.64 339.24L437.67 339.14L438.70 339.05L439.73 338.96L440.76 338.86L441.79 338.77L442.82 338.68L443.85 338.59L444.88 338.49L445.91 338.40L446.94 338.31L447.97 338.22L449.00 338.12L450.03 338.03L451.06 337.94L452.09 337.85L453.12 337.75L454.15 337.66L455.18 337.57L456.22 337.47L457.25 337.38L458.28 337.29L459.31 337.19L460.34 337.10L461.37 337.00L462.40 336.91L463.43 336.82L464.46 336.72L465.49 336.62L466.52 336.53L467.54 336.43L468.57 336.33L469.60 336.24L470.63 336.14L471.66 336.04L472.69 335.94L473.72 335.84L474.75 335.75L475.78 335.65L476.81 335.55L477.83 335.45L478.86 335.35L479.89 335.25L480.92 335.14L481.95 335.04L482.98 334.94L484.00 334.84L485.03 334.74L486.06 334.64L487.09 334.54L488.11 334.44L489.14 334.34L490.17 334.24L491.20 334.14L492.22 334.05L493.25 333.95L494.28 333.85L495.31 333.75L496.33 333.65L497.36 333.56L498.39 333.46L499.41 333.37L500.44 333.27L501.47 333.18L502.50 333.08L503.52 332.99L504.55 332.90L505.58 332.81L506.60 332.72L507.63 332.63L508.66 332.54L509.68 332.46L510.71 332.37L511.74 332.29L512.76 332.20L513.79 332.12L514.82 332.04L515.84 331.96L516.87 331.88L517.90 331.80L518.92 331.73L519.95 331.65L520.98 331.58L522.00 331.51L523.03 331.44L524.06 331.37L525.08 331.30L526.11 331.24L527.14 331.17L528.16 331.11L529.19 331.05L530.22 330.99L531.24 330.94L532.27 330.88L533.30 330.83L534.32 330.78L535.35 330.73L536.38 330.68L537.41 330.64L538.43 330.60L539.46 330.56L540.49 330.52L541.52 330.49L542.54 330.45L543.57 330.42L544.60 330.39L545.63 330.37L546.65 330.34L547.68 330.32L548.71 330.30L549.74 330.29L550.77 330.27L551.79 330.26L552.82 330.25L553.85 330.25L554.88 330.25L555.91 330.25L556.94 330.25L557.97 330.25L559.00 330.26L560.02 330.28L561.05 330.29L562.08 330.31L563.11 330.33L564.14 330.35L565.17 330.38L566.20 330.41L567.23 330.44L568.26 330.48L569.29 330.52L570.32 330.56L571.35 330.61L572.38 330.66L573.41 330.72L574.45 330.78L575.48 330.84L576.51 330.90L577.54 330.97L578.57 331.04L579.60 331.12L580.63 331.20L581.66 331.29L582.69 331.38L583.72 331.47L584.74 331.57L585.77 331.67L586.80 331.78L587.83 331.89L588.85 332.00L589.88 332.12L590.91 332.25L591.93 332.38L592.96 332.51L593.98 332.65L595.00 332.80L596.02 332.95L597.04 333.11L598.06 333.27L599.08 333.43L600.10 333.60L601.12 333.78L602.14 333.96L603.15 334.15L604.16 334.34L605.18 334.54L606.19 334.75L607.20 334.96L608.21 335.18L609.22 335.40L610.22 335.63L611.23 335.86L612.23 336.10L613.23 336.35L614.23 336.60L615.23 336.86L616.23 337.13L617.23 337.40L618.22 337.68L619.21 337.96L620.20 338.25L621.19 338.55L622.17 338.85L623.16 339.16L624.14 339.48L625.12 339.80L626.10 340.13L627.08 340.47L628.05 340.81L629.02 341.15L629.99 341.51L630.95 341.87L631.92 342.24L632.88 342.61L633.84 342.99L634.80 343.37L635.75 343.77L636.70 344.16L637.65 344.57L638.60 344.98L639.54 345.40L640.48 345.82L641.42 346.25L642.35 346.68L643.29 347.12L644.22 347.57L645.14 348.02L646.07 348.48L646.99 348.94L647.91 349.41L648.83 349.89L649.74 350.37L650.65 350.86L651.56 351.35L652.46 351.85L653.36 352.35L654.26 352.86L655.16 353.38L656.05 353.90L656.94 354.42L657.83 354.95L658.71 355.49L659.59 356.03L660.47 356.58L661.35 357.13L662.22 357.69L663.09 358.25L663.95 358.82L664.81 359.39L665.67 359.97L666.53 360.55L667.38 361.14L668.23 361.73L669.07 362.33L669.92 362.93L670.76 363.54L671.59 364.15L672.43 364.76L673.26 365.38L674.09 366.01L674.91 366.63L675.73 367.27L676.56 367.90L677.38 368.53L678.19 369.17L679.01 369.80L679.83 370.44L680.64 371.08L681.45 371.72L682.26 372.36L683.07 373.01L683.89 373.65L684.70 374.29L685.51 374.92L686.32 375.56L687.13 376.20L687.94 376.84L688.75 377.47L689.56 378.10L690.37 378.73L691.19 379.35L692.01 379.97L692.82 380.59L693.64 381.21L694.46 381.82L695.28 382.43L696.11 383.03L696.93 383.62L697.76 384.21L698.59 384.80L699.43 385.37L700.27 385.95L701.11 386.51L701.95 387.07L702.79 387.63L703.65 388.17L704.50 388.70L705.36 389.23L706.22 389.75L707.09 390.26L707.96 390.76L708.84 391.26L709.72 391.74L710.60 392.21L711.49 392.67L712.39 393.12L713.29 393.58L714.18 394.02L715.09 394.45L716.00 394.87L716.93 395.26L717.87 395.62L718.83 395.95L719.87 396.26L721.01 396.54L722.19 396.80L723.37 397.03L724.50 397.24L725.51 397.42L726.36 397.58L727.00 397.70L739.70 454.30L739.05 454.18L738.19 454.03L737.17 453.84L736.03 453.64L734.83 453.42L733.61 453.21L732.42 453.01L731.32 452.84L730.28 452.69L729.24 452.55L728.19 452.41L727.15 452.29L726.11 452.16L725.07 452.03L724.04 451.90L723.01 451.75L721.98 451.60L720.96 451.46L719.94 451.31L718.92 451.15L717.90 450.99L716.89 450.82L715.88 450.64L714.88 450.44L713.88 450.22L712.88 450.00L711.89 449.77L710.89 449.52L709.91 449.27L708.93 449.00L707.95 448.71L706.97 448.41L706.00 448.09L705.03 447.76L704.07 447.41L703.11 447.05L702.15 446.68L701.20 446.29L700.24 445.89L699.29 445.48L698.35 445.07L697.41 444.63L696.47 444.19L695.53 443.73L694.60 443.27L693.66 442.79L692.73 442.31L691.81 441.82L690.88 441.33L689.96 440.82L689.03 440.30L688.12 439.78L687.20 439.25L686.28 438.71L685.37 438.17L684.45 437.63L683.54 437.08L682.63 436.52L681.72 435.95L680.81 435.39L679.91 434.81L679.00 434.24L678.09 433.66L677.19 433.09L676.28 432.51L675.38 431.92L674.47 431.34L673.57 430.75L672.67 430.16L671.76 429.57L670.86 428.98L669.96 428.40L669.05 427.81L668.15 427.23L667.25 426.64L666.34 426.06L665.44 425.48L664.53 424.90L663.62 424.33L662.71 423.76L661.81 423.20L660.90 422.63L659.99 422.08L659.07 421.52L658.16 420.97L657.25 420.43L656.33 419.89L655.41 419.37L654.49 418.85L653.57 418.33L652.64 417.83L651.72 417.33L650.79 416.83L649.86 416.35L648.93 415.88L647.99 415.41L647.05 414.96L646.11 414.51L645.17 414.08L644.23 413.65L643.28 413.23L642.33 412.82L641.38 412.42L640.43 412.03L639.47 411.65L638.52 411.27L637.56 410.91L636.59 410.55L635.63 410.20L634.66 409.86L633.70 409.53L632.73 409.20L631.75 408.89L630.78 408.58L629.80 408.28L628.82 407.99L627.84 407.70L626.86 407.43L625.88 407.16L624.89 406.89L623.91 406.64L622.92 406.39L621.93 406.15L620.93 405.92L619.94 405.70L618.94 405.48L617.95 405.27L616.95 405.06L615.95 404.86L614.94 404.67L613.94 404.49L612.93 404.31L611.93 404.14L610.92 403.98L609.91 403.82L608.90 403.67L607.88 403.52L606.87 403.38L605.85 403.25L604.84 403.12L603.82 403.00L602.80 402.88L601.78 402.77L600.76 402.67L599.73 402.57L598.71 402.48L597.68 402.39L596.66 402.31L595.63 402.23L594.60 402.16L593.57 402.09L592.54 402.03L591.50 401.97L590.47 401.92L589.44 401.87L588.40 401.83L587.36 401.79L586.33 401.76L585.29 401.73L584.25 401.71L583.21 401.69L582.17 401.67L581.13 401.66L580.08 401.66L579.04 401.65L578.00 401.65L576.95 401.66L575.91 401.67L574.86 401.68L573.81 401.69L572.77 401.71L571.72 401.74L570.67 401.76L569.62 401.79L568.57 401.83L567.52 401.86L566.47 401.90L565.42 401.94L564.37 401.99L563.32 402.04L562.26 402.09L561.21 402.14L560.16 402.20L559.11 402.26L558.05 402.32L557.00 402.38L555.94 402.45L554.89 402.52L553.84 402.59L552.78 402.66L551.73 402.74L550.67 402.81L549.62 402.89L548.56 402.97L547.51 403.05L546.45 403.14L545.40 403.22L544.34 403.31L543.29 403.40L542.23 403.49L541.18 403.58L540.12 403.67L539.07 403.76L538.01 403.86L536.96 403.96L535.90 404.05L534.85 404.15L533.80 404.25L532.74 404.34L531.69 404.44L530.64 404.54L529.58 404.64L528.53 404.74L527.48 404.84L526.43 404.94L525.38 405.04L524.33 405.14L523.28 405.25L522.23 405.35L521.18 405.45L520.13 405.55L519.08 405.66L518.03 405.76L516.98 405.87L515.94 405.97L514.89 406.07L513.84 406.18L512.79 406.29L511.75 406.39L510.70 406.50L509.65 406.60L508.61 406.71L507.56 406.82L506.52 406.93L505.47 407.03L504.43 407.14L503.39 407.25L502.34 407.36L501.30 407.47L500.25 407.58L499.21 407.69L498.17 407.80L497.13 407.91L496.08 408.02L495.04 408.13L494.00 408.25L492.96 408.36L491.92 408.47L490.88 408.59L489.84 408.70L488.80 408.81L487.76 408.93L486.72 409.04L485.68 409.16L484.64 409.27L483.60 409.39L482.56 409.50L481.52 409.62L480.48 409.74L479.44 409.85L478.41 409.97L477.37 410.09L476.33 410.21L475.29 410.33L474.26 410.45L473.22 410.57L472.18 410.69L471.15 410.81L470.11 410.93L469.08 411.05L468.04 411.17L467.00 411.29L465.97 411.41L464.93 411.53L463.90 411.66L462.86 411.78L461.83 411.90L460.80 412.03L459.76 412.15L458.73 412.28L457.69 412.40L456.66 412.53L455.63 412.65L454.59 412.78L453.56 412.90L452.53 413.03L451.49 413.16L450.46 413.29L449.43 413.41L448.40 413.54L447.36 413.67L446.33 413.80L445.30 413.93L444.27 414.06L443.24 414.19L442.20 414.32L441.17 414.45L440.14 414.58L439.11 414.71L438.08 414.84L437.05 414.98L436.02 415.11L434.99 415.24L433.96 415.38L432.93 415.51L431.90 415.64L430.87 415.78L429.84 415.91L428.81 416.05L427.78 416.18L426.75 416.32L425.72 416.46L424.69 416.59L423.66 416.73L422.63 416.87L421.60 417.00L420.57 417.14L419.54 417.28L418.51 417.42L417.48 417.56L416.45 417.70L415.42 417.84L414.39 417.98L413.37 418.12L412.34 418.26L411.31 418.40L410.28 418.54L409.25 418.69L408.22 418.83L407.19 418.97L406.16 419.12L405.14 419.26L404.11 419.40L403.08 419.55L402.05 419.69L401.02 419.84L399.99 419.98L398.97 420.13L397.94 420.28L396.91 420.42L395.88 420.57L394.85 420.72L393.82 420.86L392.80 421.01L391.77 421.16L390.74 421.31L389.71 421.46L388.68 421.61L387.65 421.76L386.63 421.91L385.60 422.06L384.57 422.21L383.54 422.36L382.51 422.51L381.48 422.67L380.46 422.82L379.43 422.97L378.40 423.13L377.37 423.28L376.34 423.43L375.31 423.59L374.28 423.74L373.26 423.90L372.23 424.05L371.20 424.21L370.17 424.37L369.14 424.52L368.11 424.68L367.08 424.84L366.05 424.99L365.02 425.15L364.00 425.31L362.97 425.47L361.94 425.63L360.91 425.79L359.88 425.95L358.85 426.11L357.82 426.27L356.79 426.43L355.76 426.59L354.73 426.75L353.70 426.92L352.67 427.08L351.64 427.24L350.61 427.40L349.58 427.57L348.55 427.73L347.52 427.90L346.48 428.06L345.45 428.23L344.42 428.39L343.39 428.56L342.36 428.72L341.33 428.89L340.30 429.06L339.26 429.22L338.23 429.39L337.20 429.56L336.17 429.73L335.14 429.90L334.10 430.07L333.07 430.24L332.04 430.41L331.00 430.58L329.97 430.75L328.94 430.92L327.90 431.09L326.87 431.26L325.84 431.43L324.80 431.61L323.77 431.78L322.73 431.95L321.70 432.13L320.67 432.30L319.63 432.47L318.60 432.65L317.56 432.82L316.52 433.00L315.49 433.18L314.45 433.35L313.42 433.53L312.38 433.71L311.34 433.88L310.31 434.06L309.27 434.24L308.23 434.42L307.20 434.60L306.16 434.78L305.12 434.96L304.08 435.14L303.04 435.32L302.01 435.50L300.97 435.68L299.93 435.86L298.89 436.04L297.85 436.22L296.81 436.41L295.77 436.59L294.73 436.77L293.69 436.96L292.65 437.14L291.61 437.33L290.57 437.52L289.53 437.71L288.49 437.90L287.45 438.09L286.41 438.28L285.38 438.47L284.34 438.67L283.30 438.87L282.26 439.07L281.23 439.27L280.19 439.47L279.16 439.67L278.12 439.88L277.09 440.08L276.06 440.30L275.02 440.51L273.99 440.72L272.96 440.94L271.93 441.16L270.90 441.38L269.88 441.60L268.85 441.83L267.83 442.06L266.80 442.29L265.78 442.53L264.76 442.76L263.74 443.00L262.72 443.25L261.70 443.49L260.69 443.75L259.67 444.00L258.66 444.26L257.65 444.52L256.64 444.78L255.63 445.05L254.63 445.32L253.62 445.60L252.62 445.88L251.62 446.16L250.62 446.45L249.62 446.74L248.63 447.03L247.64 447.33L246.65 447.64L245.66 447.95L244.67 448.26L243.69 448.58L242.71 448.90L241.73 449.23L240.75 449.56L239.78 449.89L238.80 450.24L237.83 450.58L236.87 450.94L235.90 451.29L234.94 451.66L233.98 452.02L233.03 452.40L232.07 452.77L231.12 453.16L230.18 453.55L229.23 453.95L228.29 454.35L227.35 454.75L226.42 455.17L225.48 455.59L224.55 456.01L223.63 456.44L222.71 456.88L221.79 457.33L220.87 457.78L219.96 458.24L219.05 458.70L218.14 459.17L217.24 459.65L216.34 460.13L215.45 460.62L214.56 461.12L213.67 461.63L212.79 462.14L211.91 462.66L211.03 463.19L210.16 463.72L209.29 464.26L208.42 464.81L207.56 465.37L206.71 465.93L205.86 466.51L205.01 467.09L204.17 467.67L203.33 468.27L202.49 468.87L201.66 469.49L200.83 470.11L200.01 470.74L199.20 471.37L198.38 472.02L197.58 472.67L196.77 473.34L195.97 474.01L195.18 474.69L194.39 475.38L193.61 476.08L192.83 476.79L192.05 477.50L191.29 478.23L190.52 478.97L189.76 479.71L189.01 480.46L188.25 481.22L187.51 481.99L186.77 482.76L186.03 483.55L185.30 484.34L184.57 485.14L183.84 485.94L183.11 486.75L182.39 487.55L181.66 488.36L180.94 489.18L180.23 490.00L179.51 490.82L178.80 491.64L178.08 492.46L177.36 493.28L176.64 494.09L175.92 494.91L175.20 495.72L174.49 496.53L173.77 497.35L173.04 498.15L172.32 498.96L171.59 499.75L170.86 500.54L170.12 501.31L169.38 502.09L168.64 502.85L167.90 503.61L167.15 504.37L166.39 505.11L165.64 505.85L164.88 506.57L164.11 507.29L163.34 508.00L162.56 508.70L161.78 509.39L161.00 510.08L160.21 510.75L159.42 511.43L158.62 512.09L157.83 512.75L157.02 513.40L156.22 514.05L155.41 514.68L154.59 515.32L153.78 515.94L152.96 516.57L152.14 517.19L151.31 517.80L150.49 518.41L149.65 519.01L148.82 519.61L147.98 520.21L147.14 520.80L146.30 521.39L145.46 521.98L144.61 522.56L143.77 523.14L142.91 523.72L142.06 524.29L141.21 524.87L140.35 525.44L139.49 526.01L138.63 526.58L137.77 527.14L136.90 527.71L136.04 528.28L135.17 528.84L134.30 529.40L133.43 529.97L132.56 530.53L131.69 531.09L130.81 531.65L129.93 532.21L129.06 532.77L128.18 533.32L127.30 533.88L126.41 534.43L125.53 534.98L124.64 535.54L123.75 536.08L122.87 536.63L121.98 537.18L121.08 537.72L120.19 538.27L119.29 538.81L118.40 539.34L117.50 539.88L116.60 540.41L115.69 540.95L114.79 541.48L113.89 542.00L112.98 542.53L112.07 543.05L111.16 543.57L110.25 544.09L109.33 544.60L108.42 545.11L107.50 545.62L106.58 546.13L105.66 546.63L104.74 547.13L103.81 547.63L102.89 548.12L101.96 548.61L101.03 549.09L100.10 549.58L99.17 550.06L98.23 550.53L97.30 551.00L96.36 551.47L95.42 551.94L94.48 552.40L93.53 552.85L92.59 553.31L91.64 553.76L90.69 554.20L89.74 554.64L88.79 555.08L87.84 555.51L86.88 555.93L85.92 556.35L84.96 556.77L84.00 557.19L83.04 557.59L82.07 558.00L81.11 558.40L80.14 558.79L79.17 559.18L78.19 559.56L77.22 559.94L76.24 560.31L75.26 560.68L74.28 561.04L73.30 561.40L72.32 561.75L71.33 562.09L70.34 562.43L69.35 562.77L68.36 563.10L67.37 563.42L66.37 563.74L65.38 564.05L64.38 564.35L63.38 564.64L62.37 564.93L61.36 565.21L60.35 565.49L59.34 565.76L58.33 566.02L57.32 566.29L56.31 566.55L55.24 566.83L54.10 567.12L52.92 567.42L51.75 567.71L50.65 567.99L49.66 568.24L48.83 568.44L48.20 568.60Z"/></clipPath></defs>
<path d="M48.20 488.60L48.80 488.40L49.60 488.14L50.55 487.82L51.61 487.47L52.73 487.10L53.86 486.72L54.96 486.35L55.99 486.00L56.96 485.67L57.94 485.33L58.91 484.99L59.89 484.65L60.86 484.30L61.83 483.95L62.81 483.60L63.78 483.25L64.75 482.90L65.72 482.54L66.69 482.19L67.66 481.82L68.63 481.46L69.60 481.10L70.57 480.73L71.53 480.36L72.50 479.98L73.46 479.61L74.43 479.23L75.39 478.85L76.35 478.46L77.31 478.08L78.27 477.69L79.23 477.30L80.19 476.90L81.14 476.50L82.10 476.10L83.05 475.69L84.00 475.29L84.95 474.88L85.90 474.46L86.85 474.04L87.79 473.62L88.74 473.20L89.68 472.77L90.62 472.34L91.56 471.91L92.50 471.47L93.43 471.03L94.36 470.58L95.29 470.13L96.22 469.68L97.15 469.23L98.07 468.77L99.00 468.30L99.92 467.84L100.83 467.37L101.75 466.89L102.66 466.41L103.57 465.93L104.48 465.44L105.39 464.95L106.29 464.46L107.19 463.96L108.09 463.45L108.98 462.95L109.88 462.43L110.77 461.92L111.65 461.40L112.54 460.87L113.42 460.34L114.30 459.81L115.17 459.27L116.05 458.73L116.91 458.18L117.78 457.63L118.64 457.07L119.50 456.51L120.36 455.95L121.21 455.38L122.06 454.80L122.91 454.22L123.75 453.63L124.59 453.04L125.43 452.45L126.26 451.85L127.09 451.24L127.91 450.63L128.73 450.01L129.55 449.39L130.37 448.77L131.18 448.13L131.98 447.50L132.78 446.86L133.58 446.21L134.38 445.56L135.17 444.90L135.96 444.25L136.75 443.58L137.54 442.92L138.32 442.25L139.10 441.57L139.87 440.89L140.65 440.21L141.42 439.53L142.19 438.85L142.96 438.16L143.72 437.47L144.49 436.77L145.25 436.07L146.01 435.38L146.77 434.68L147.53 433.97L148.29 433.27L149.05 432.57L149.80 431.86L150.56 431.15L151.31 430.45L152.07 429.74L152.82 429.03L153.57 428.32L154.33 427.61L155.08 426.90L155.84 426.19L156.59 425.48L157.34 424.77L158.10 424.06L158.85 423.35L159.61 422.64L160.36 421.94L161.12 421.24L161.88 420.53L162.64 419.83L163.40 419.13L164.16 418.43L164.93 417.73L165.69 417.04L166.46 416.35L167.23 415.66L168.00 414.97L168.78 414.29L169.55 413.61L170.33 412.93L171.11 412.26L171.89 411.58L172.68 410.92L173.47 410.26L174.26 409.60L175.05 408.94L175.85 408.29L176.65 407.64L177.46 407.00L178.26 406.36L179.08 405.73L179.89 405.10L180.71 404.48L181.53 403.86L182.35 403.24L183.18 402.63L184.01 402.03L184.84 401.43L185.67 400.83L186.51 400.24L187.35 399.65L188.20 399.07L189.05 398.50L189.90 397.93L190.75 397.36L191.61 396.80L192.47 396.24L193.33 395.69L194.20 395.15L195.07 394.61L195.94 394.07L196.81 393.54L197.69 393.02L198.57 392.50L199.46 391.99L200.34 391.48L201.23 390.98L202.13 390.48L203.02 389.99L203.92 389.51L204.82 389.03L205.72 388.55L206.63 388.08L207.54 387.62L208.45 387.16L209.36 386.70L210.28 386.26L211.20 385.81L212.12 385.37L213.05 384.94L213.97 384.51L214.90 384.08L215.83 383.67L216.77 383.25L217.70 382.84L218.64 382.43L219.58 382.03L220.52 381.64L221.47 381.24L222.42 380.86L223.36 380.47L224.32 380.09L225.27 379.72L226.23 379.35L227.18 378.98L228.14 378.62L229.10 378.26L230.07 377.90L231.03 377.55L232.00 377.21L232.97 376.86L233.94 376.52L234.91 376.19L235.89 375.86L236.86 375.53L237.84 375.20L238.82 374.88L239.80 374.56L240.78 374.25L241.76 373.94L242.75 373.63L243.73 373.32L244.72 373.02L245.71 372.72L246.70 372.43L247.69 372.14L248.69 371.85L249.68 371.56L250.68 371.28L251.68 371.00L252.67 370.72L253.67 370.44L254.67 370.17L255.67 369.90L256.68 369.63L257.68 369.37L258.69 369.10L259.69 368.84L260.70 368.58L261.70 368.33L262.71 368.07L263.72 367.82L264.73 367.57L265.74 367.33L266.75 367.08L267.76 366.84L268.78 366.60L269.79 366.36L270.80 366.12L271.82 365.88L272.83 365.65L273.85 365.42L274.86 365.19L275.88 364.96L276.89 364.73L277.91 364.50L278.93 364.28L279.95 364.05L280.96 363.83L281.98 363.61L283.00 363.39L284.02 363.17L285.04 362.95L286.05 362.73L287.07 362.52L288.09 362.30L289.11 362.09L290.13 361.88L291.15 361.66L292.17 361.45L293.19 361.24L294.20 361.03L295.22 360.82L296.24 360.61L297.26 360.40L298.27 360.19L299.29 359.98L300.31 359.78L301.32 359.57L302.34 359.36L303.36 359.15L304.37 358.95L305.39 358.74L306.40 358.53L307.41 358.33L308.43 358.12L309.44 357.92L310.46 357.71L311.47 357.51L312.48 357.30L313.49 357.10L314.51 356.90L315.52 356.69L316.53 356.49L317.54 356.29L318.55 356.09L319.57 355.89L320.58 355.69L321.59 355.49L322.60 355.29L323.61 355.09L324.62 354.89L325.63 354.69L326.64 354.50L327.65 354.30L328.66 354.11L329.67 353.91L330.68 353.72L331.69 353.52L332.70 353.33L333.71 353.14L334.72 352.95L335.73 352.76L336.74 352.57L337.75 352.38L338.76 352.19L339.77 352.00L340.77 351.82L341.78 351.63L342.79 351.45L343.80 351.26L344.81 351.08L345.82 350.90L346.83 350.72L347.84 350.54L348.85 350.36L349.86 350.18L350.87 350.00L351.88 349.83L352.89 349.65L353.90 349.48L354.91 349.31L355.92 349.13L356.93 348.96L357.95 348.79L358.96 348.63L359.97 348.46L360.98 348.29L361.99 348.13L363.00 347.96L364.02 347.80L365.03 347.64L366.04 347.48L367.05 347.32L368.07 347.16L369.08 347.01L370.09 346.85L371.11 346.70L372.12 346.55L373.14 346.40L374.15 346.25L375.17 346.10L376.18 345.95L377.20 345.81L378.22 345.66L379.23 345.52L380.25 345.38L381.27 345.24L382.29 345.10L383.30 344.96L384.32 344.83L385.34 344.69L386.36 344.56L387.38 344.43L388.40 344.30L389.42 344.17L390.44 344.04L391.47 343.91L392.49 343.79L393.51 343.67L394.53 343.54L395.55 343.42L396.58 343.30L397.60 343.18L398.62 343.06L399.65 342.94L400.67 342.83L401.69 342.71L402.72 342.60L403.74 342.49L404.77 342.37L405.79 342.26L406.82 342.15L407.84 342.04L408.87 341.93L409.90 341.82L410.92 341.72L411.95 341.61L412.98 341.51L414.00 341.40L415.03 341.30L416.06 341.19L417.09 341.09L418.11 340.99L419.14 340.89L420.17 340.79L421.20 340.69L422.23 340.59L423.26 340.49L424.28 340.39L425.31 340.29L426.34 340.19L427.37 340.10L428.40 340.00L429.43 339.90L430.46 339.81L431.49 339.71L432.52 339.62L433.55 339.52L434.58 339.43L435.61 339.33L436.64 339.24L437.67 339.14L438.70 339.05L439.73 338.96L440.76 338.86L441.79 338.77L442.82 338.68L443.85 338.59L444.88 338.49L445.91 338.40L446.94 338.31L447.97 338.22L449.00 338.12L450.03 338.03L451.06 337.94L452.09 337.85L453.12 337.75L454.15 337.66L455.18 337.57L456.22 337.47L457.25 337.38L458.28 337.29L459.31 337.19L460.34 337.10L461.37 337.00L462.40 336.91L463.43 336.82L464.46 336.72L465.49 336.62L466.52 336.53L467.54 336.43L468.57 336.33L469.60 336.24L470.63 336.14L471.66 336.04L472.69 335.94L473.72 335.84L474.75 335.75L475.78 335.65L476.81 335.55L477.83 335.45L478.86 335.35L479.89 335.25L480.92 335.14L481.95 335.04L482.98 334.94L484.00 334.84L485.03 334.74L486.06 334.64L487.09 334.54L488.11 334.44L489.14 334.34L490.17 334.24L491.20 334.14L492.22 334.05L493.25 333.95L494.28 333.85L495.31 333.75L496.33 333.65L497.36 333.56L498.39 333.46L499.41 333.37L500.44 333.27L501.47 333.18L502.50 333.08L503.52 332.99L504.55 332.90L505.58 332.81L506.60 332.72L507.63 332.63L508.66 332.54L509.68 332.46L510.71 332.37L511.74 332.29L512.76 332.20L513.79 332.12L514.82 332.04L515.84 331.96L516.87 331.88L517.90 331.80L518.92 331.73L519.95 331.65L520.98 331.58L522.00 331.51L523.03 331.44L524.06 331.37L525.08 331.30L526.11 331.24L527.14 331.17L528.16 331.11L529.19 331.05L530.22 330.99L531.24 330.94L532.27 330.88L533.30 330.83L534.32 330.78L535.35 330.73L536.38 330.68L537.41 330.64L538.43 330.60L539.46 330.56L540.49 330.52L541.52 330.49L542.54 330.45L543.57 330.42L544.60 330.39L545.63 330.37L546.65 330.34L547.68 330.32L548.71 330.30L549.74 330.29L550.77 330.27L551.79 330.26L552.82 330.25L553.85 330.25L554.88 330.25L555.91 330.25L556.94 330.25L557.97 330.25L559.00 330.26L560.02 330.28L561.05 330.29L562.08 330.31L563.11 330.33L564.14 330.35L565.17 330.38L566.20 330.41L567.23 330.44L568.26 330.48L569.29 330.52L570.32 330.56L571.35 330.61L572.38 330.66L573.41 330.72L574.45 330.78L575.48 330.84L576.51 330.90L577.54 330.97L578.57 331.04L579.60 331.12L580.63 331.20L581.66 331.29L582.69 331.38L583.72 331.47L584.74 331.57L585.77 331.67L586.80 331.78L587.83 331.89L588.85 332.00L589.88 332.12L590.91 332.25L591.93 332.38L592.96 332.51L593.98 332.65L595.00 332.80L596.02 332.95L597.04 333.11L598.06 333.27L599.08 333.43L600.10 333.60L601.12 333.78L602.14 333.96L603.15 334.15L604.16 334.34L605.18 334.54L606.19 334.75L607.20 334.96L608.21 335.18L609.22 335.40L610.22 335.63L611.23 335.86L612.23 336.10L613.23 336.35L614.23 336.60L615.23 336.86L616.23 337.13L617.23 337.40L618.22 337.68L619.21 337.96L620.20 338.25L621.19 338.55L622.17 338.85L623.16 339.16L624.14 339.48L625.12 339.80L626.10 340.13L627.08 340.47L628.05 340.81L629.02 341.15L629.99 341.51L630.95 341.87L631.92 342.24L632.88 342.61L633.84 342.99L634.80 343.37L635.75 343.77L636.70 344.16L637.65 344.57L638.60 344.98L639.54 345.40L640.48 345.82L641.42 346.25L642.35 346.68L643.29 347.12L644.22 347.57L645.14 348.02L646.07 348.48L646.99 348.94L647.91 349.41L648.83 349.89L649.74 350.37L650.65 350.86L651.56 351.35L652.46 351.85L653.36 352.35L654.26 352.86L655.16 353.38L656.05 353.90L656.94 354.42L657.83 354.95L658.71 355.49L659.59 356.03L660.47 356.58L661.35 357.13L662.22 357.69L663.09 358.25L663.95 358.82L664.81 359.39L665.67 359.97L666.53 360.55L667.38 361.14L668.23 361.73L669.07 362.33L669.92 362.93L670.76 363.54L671.59 364.15L672.43 364.76L673.26 365.38L674.09 366.01L674.91 366.63L675.73 367.27L676.56 367.90L677.38 368.53L678.19 369.17L679.01 369.80L679.83 370.44L680.64 371.08L681.45 371.72L682.26 372.36L683.07 373.01L683.89 373.65L684.70 374.29L685.51 374.92L686.32 375.56L687.13 376.20L687.94 376.84L688.75 377.47L689.56 378.10L690.37 378.73L691.19 379.35L692.01 379.97L692.82 380.59L693.64 381.21L694.46 381.82L695.28 382.43L696.11 383.03L696.93 383.62L697.76 384.21L698.59 384.80L699.43 385.37L700.27 385.95L701.11 386.51L701.95 387.07L702.79 387.63L703.65 388.17L704.50 388.70L705.36 389.23L706.22 389.75L707.09 390.26L707.96 390.76L708.84 391.26L709.72 391.74L710.60 392.21L711.49 392.67L712.39 393.12L713.29 393.58L714.18 394.02L715.09 394.45L716.00 394.87L716.93 395.26L717.87 395.62L718.83 395.95L719.87 396.26L721.01 396.54L722.19 396.80L723.37 397.03L724.50 397.24L725.51 397.42L726.36 397.58L727.00 397.70L739.70 454.30L739.05 454.18L738.19 454.03L737.17 453.84L736.03 453.64L734.83 453.42L733.61 453.21L732.42 453.01L731.32 452.84L730.28 452.69L729.24 452.55L728.19 452.41L727.15 452.29L726.11 452.16L725.07 452.03L724.04 451.90L723.01 451.75L721.98 451.60L720.96 451.46L719.94 451.31L718.92 451.15L717.90 450.99L716.89 450.82L715.88 450.64L714.88 450.44L713.88 450.22L712.88 450.00L711.89 449.77L710.89 449.52L709.91 449.27L708.93 449.00L707.95 448.71L706.97 448.41L706.00 448.09L705.03 447.76L704.07 447.41L703.11 447.05L702.15 446.68L701.20 446.29L700.24 445.89L699.29 445.48L698.35 445.07L697.41 444.63L696.47 444.19L695.53 443.73L694.60 443.27L693.66 442.79L692.73 442.31L691.81 441.82L690.88 441.33L689.96 440.82L689.03 440.30L688.12 439.78L687.20 439.25L686.28 438.71L685.37 438.17L684.45 437.63L683.54 437.08L682.63 436.52L681.72 435.95L680.81 435.39L679.91 434.81L679.00 434.24L678.09 433.66L677.19 433.09L676.28 432.51L675.38 431.92L674.47 431.34L673.57 430.75L672.67 430.16L671.76 429.57L670.86 428.98L669.96 428.40L669.05 427.81L668.15 427.23L667.25 426.64L666.34 426.06L665.44 425.48L664.53 424.90L663.62 424.33L662.71 423.76L661.81 423.20L660.90 422.63L659.99 422.08L659.07 421.52L658.16 420.97L657.25 420.43L656.33 419.89L655.41 419.37L654.49 418.85L653.57 418.33L652.64 417.83L651.72 417.33L650.79 416.83L649.86 416.35L648.93 415.88L647.99 415.41L647.05 414.96L646.11 414.51L645.17 414.08L644.23 413.65L643.28 413.23L642.33 412.82L641.38 412.42L640.43 412.03L639.47 411.65L638.52 411.27L637.56 410.91L636.59 410.55L635.63 410.20L634.66 409.86L633.70 409.53L632.73 409.20L631.75 408.89L630.78 408.58L629.80 408.28L628.82 407.99L627.84 407.70L626.86 407.43L625.88 407.16L624.89 406.89L623.91 406.64L622.92 406.39L621.93 406.15L620.93 405.92L619.94 405.70L618.94 405.48L617.95 405.27L616.95 405.06L615.95 404.86L614.94 404.67L613.94 404.49L612.93 404.31L611.93 404.14L610.92 403.98L609.91 403.82L608.90 403.67L607.88 403.52L606.87 403.38L605.85 403.25L604.84 403.12L603.82 403.00L602.80 402.88L601.78 402.77L600.76 402.67L599.73 402.57L598.71 402.48L597.68 402.39L596.66 402.31L595.63 402.23L594.60 402.16L593.57 402.09L592.54 402.03L591.50 401.97L590.47 401.92L589.44 401.87L588.40 401.83L587.36 401.79L586.33 401.76L585.29 401.73L584.25 401.71L583.21 401.69L582.17 401.67L581.13 401.66L580.08 401.66L579.04 401.65L578.00 401.65L576.95 401.66L575.91 401.67L574.86 401.68L573.81 401.69L572.77 401.71L571.72 401.74L570.67 401.76L569.62 401.79L568.57 401.83L567.52 401.86L566.47 401.90L565.42 401.94L564.37 401.99L563.32 402.04L562.26 402.09L561.21 402.14L560.16 402.20L559.11 402.26L558.05 402.32L557.00 402.38L555.94 402.45L554.89 402.52L553.84 402.59L552.78 402.66L551.73 402.74L550.67 402.81L549.62 402.89L548.56 402.97L547.51 403.05L546.45 403.14L545.40 403.22L544.34 403.31L543.29 403.40L542.23 403.49L541.18 403.58L540.12 403.67L539.07 403.76L538.01 403.86L536.96 403.96L535.90 404.05L534.85 404.15L533.80 404.25L532.74 404.34L531.69 404.44L530.64 404.54L529.58 404.64L528.53 404.74L527.48 404.84L526.43 404.94L525.38 405.04L524.33 405.14L523.28 405.25L522.23 405.35L521.18 405.45L520.13 405.55L519.08 405.66L518.03 405.76L516.98 405.87L515.94 405.97L514.89 406.07L513.84 406.18L512.79 406.29L511.75 406.39L510.70 406.50L509.65 406.60L508.61 406.71L507.56 406.82L506.52 406.93L505.47 407.03L504.43 407.14L503.39 407.25L502.34 407.36L501.30 407.47L500.25 407.58L499.21 407.69L498.17 407.80L497.13 407.91L496.08 408.02L495.04 408.13L494.00 408.25L492.96 408.36L491.92 408.47L490.88 408.59L489.84 408.70L488.80 408.81L487.76 408.93L486.72 409.04L485.68 409.16L484.64 409.27L483.60 409.39L482.56 409.50L481.52 409.62L480.48 409.74L479.44 409.85L478.41 409.97L477.37 410.09L476.33 410.21L475.29 410.33L474.26 410.45L473.22 410.57L472.18 410.69L471.15 410.81L470.11 410.93L469.08 411.05L468.04 411.17L467.00 411.29L465.97 411.41L464.93 411.53L463.90 411.66L462.86 411.78L461.83 411.90L460.80 412.03L459.76 412.15L458.73 412.28L457.69 412.40L456.66 412.53L455.63 412.65L454.59 412.78L453.56 412.90L452.53 413.03L451.49 413.16L450.46 413.29L449.43 413.41L448.40 413.54L447.36 413.67L446.33 413.80L445.30 413.93L444.27 414.06L443.24 414.19L442.20 414.32L441.17 414.45L440.14 414.58L439.11 414.71L438.08 414.84L437.05 414.98L436.02 415.11L434.99 415.24L433.96 415.38L432.93 415.51L431.90 415.64L430.87 415.78L429.84 415.91L428.81 416.05L427.78 416.18L426.75 416.32L425.72 416.46L424.69 416.59L423.66 416.73L422.63 416.87L421.60 417.00L420.57 417.14L419.54 417.28L418.51 417.42L417.48 417.56L416.45 417.70L415.42 417.84L414.39 417.98L413.37 418.12L412.34 418.26L411.31 418.40L410.28 418.54L409.25 418.69L408.22 418.83L407.19 418.97L406.16 419.12L405.14 419.26L404.11 419.40L403.08 419.55L402.05 419.69L401.02 419.84L399.99 419.98L398.97 420.13L397.94 420.28L396.91 420.42L395.88 420.57L394.85 420.72L393.82 420.86L392.80 421.01L391.77 421.16L390.74 421.31L389.71 421.46L388.68 421.61L387.65 421.76L386.63 421.91L385.60 422.06L384.57 422.21L383.54 422.36L382.51 422.51L381.48 422.67L380.46 422.82L379.43 422.97L378.40 423.13L377.37 423.28L376.34 423.43L375.31 423.59L374.28 423.74L373.26 423.90L372.23 424.05L371.20 424.21L370.17 424.37L369.14 424.52L368.11 424.68L367.08 424.84L366.05 424.99L365.02 425.15L364.00 425.31L362.97 425.47L361.94 425.63L360.91 425.79L359.88 425.95L358.85 426.11L357.82 426.27L356.79 426.43L355.76 426.59L354.73 426.75L353.70 426.92L352.67 427.08L351.64 427.24L350.61 427.40L349.58 427.57L348.55 427.73L347.52 427.90L346.48 428.06L345.45 428.23L344.42 428.39L343.39 428.56L342.36 428.72L341.33 428.89L340.30 429.06L339.26 429.22L338.23 429.39L337.20 429.56L336.17 429.73L335.14 429.90L334.10 430.07L333.07 430.24L332.04 430.41L331.00 430.58L329.97 430.75L328.94 430.92L327.90 431.09L326.87 431.26L325.84 431.43L324.80 431.61L323.77 431.78L322.73 431.95L321.70 432.13L320.67 432.30L319.63 432.47L318.60 432.65L317.56 432.82L316.52 433.00L315.49 433.18L314.45 433.35L313.42 433.53L312.38 433.71L311.34 433.88L310.31 434.06L309.27 434.24L308.23 434.42L307.20 434.60L306.16 434.78L305.12 434.96L304.08 435.14L303.04 435.32L302.01 435.50L300.97 435.68L299.93 435.86L298.89 436.04L297.85 436.22L296.81 436.41L295.77 436.59L294.73 436.77L293.69 436.96L292.65 437.14L291.61 437.33L290.57 437.52L289.53 437.71L288.49 437.90L287.45 438.09L286.41 438.28L285.38 438.47L284.34 438.67L283.30 438.87L282.26 439.07L281.23 439.27L280.19 439.47L279.16 439.67L278.12 439.88L277.09 440.08L276.06 440.30L275.02 440.51L273.99 440.72L272.96 440.94L271.93 441.16L270.90 441.38L269.88 441.60L268.85 441.83L267.83 442.06L266.80 442.29L265.78 442.53L264.76 442.76L263.74 443.00L262.72 443.25L261.70 443.49L260.69 443.75L259.67 444.00L258.66 444.26L257.65 444.52L256.64 444.78L255.63 445.05L254.63 445.32L253.62 445.60L252.62 445.88L251.62 446.16L250.62 446.45L249.62 446.74L248.63 447.03L247.64 447.33L246.65 447.64L245.66 447.95L244.67 448.26L243.69 448.58L242.71 448.90L241.73 449.23L240.75 449.56L239.78 449.89L238.80 450.24L237.83 450.58L236.87 450.94L235.90 451.29L234.94 451.66L233.98 452.02L233.03 452.40L232.07 452.77L231.12 453.16L230.18 453.55L229.23 453.95L228.29 454.35L227.35 454.75L226.42 455.17L225.48 455.59L224.55 456.01L223.63 456.44L222.71 456.88L221.79 457.33L220.87 457.78L219.96 458.24L219.05 458.70L218.14 459.17L217.24 459.65L216.34 460.13L215.45 460.62L214.56 461.12L213.67 461.63L212.79 462.14L211.91 462.66L211.03 463.19L210.16 463.72L209.29 464.26L208.42 464.81L207.56 465.37L206.71 465.93L205.86 466.51L205.01 467.09L204.17 467.67L203.33 468.27L202.49 468.87L201.66 469.49L200.83 470.11L200.01 470.74L199.20 471.37L198.38 472.02L197.58 472.67L196.77 473.34L195.97 474.01L195.18 474.69L194.39 475.38L193.61 476.08L192.83 476.79L192.05 477.50L191.29 478.23L190.52 478.97L189.76 479.71L189.01 480.46L188.25 481.22L187.51 481.99L186.77 482.76L186.03 483.55L185.30 484.34L184.57 485.14L183.84 485.94L183.11 486.75L182.39 487.55L181.66 488.36L180.94 489.18L180.23 490.00L179.51 490.82L178.80 491.64L178.08 492.46L177.36 493.28L176.64 494.09L175.92 494.91L175.20 495.72L174.49 496.53L173.77 497.35L173.04 498.15L172.32 498.96L171.59 499.75L170.86 500.54L170.12 501.31L169.38 502.09L168.64 502.85L167.90 503.61L167.15 504.37L166.39 505.11L165.64 505.85L164.88 506.57L164.11 507.29L163.34 508.00L162.56 508.70L161.78 509.39L161.00 510.08L160.21 510.75L159.42 511.43L158.62 512.09L157.83 512.75L157.02 513.40L156.22 514.05L155.41 514.68L154.59 515.32L153.78 515.94L152.96 516.57L152.14 517.19L151.31 517.80L150.49 518.41L149.65 519.01L148.82 519.61L147.98 520.21L147.14 520.80L146.30 521.39L145.46 521.98L144.61 522.56L143.77 523.14L142.91 523.72L142.06 524.29L141.21 524.87L140.35 525.44L139.49 526.01L138.63 526.58L137.77 527.14L136.90 527.71L136.04 528.28L135.17 528.84L134.30 529.40L133.43 529.97L132.56 530.53L131.69 531.09L130.81 531.65L129.93 532.21L129.06 532.77L128.18 533.32L127.30 533.88L126.41 534.43L125.53 534.98L124.64 535.54L123.75 536.08L122.87 536.63L121.98 537.18L121.08 537.72L120.19 538.27L119.29 538.81L118.40 539.34L117.50 539.88L116.60 540.41L115.69 540.95L114.79 541.48L113.89 542.00L112.98 542.53L112.07 543.05L111.16 543.57L110.25 544.09L109.33 544.60L108.42 545.11L107.50 545.62L106.58 546.13L105.66 546.63L104.74 547.13L103.81 547.63L102.89 548.12L101.96 548.61L101.03 549.09L100.10 549.58L99.17 550.06L98.23 550.53L97.30 551.00L96.36 551.47L95.42 551.94L94.48 552.40L93.53 552.85L92.59 553.31L91.64 553.76L90.69 554.20L89.74 554.64L88.79 555.08L87.84 555.51L86.88 555.93L85.92 556.35L84.96 556.77L84.00 557.19L83.04 557.59L82.07 558.00L81.11 558.40L80.14 558.79L79.17 559.18L78.19 559.56L77.22 559.94L76.24 560.31L75.26 560.68L74.28 561.04L73.30 561.40L72.32 561.75L71.33 562.09L70.34 562.43L69.35 562.77L68.36 563.10L67.37 563.42L66.37 563.74L65.38 564.05L64.38 564.35L63.38 564.64L62.37 564.93L61.36 565.21L60.35 565.49L59.34 565.76L58.33 566.02L57.32 566.29L56.31 566.55L55.24 566.83L54.10 567.12L52.92 567.42L51.75 567.71L50.65 567.99L49.66 568.24L48.83 568.44L48.20 568.60Z" fill="#ffffff" stroke="none"/>
<g clip-path="url(#tc)" stroke="#111" fill="none" stroke-linecap="butt">
<path d="M58.7 485.1L60.7 502.8M61.6 484.0L63.7 501.7M64.5 483.0L66.7 500.6M67.5 481.9L69.8 499.5M70.4 480.8L73.7 504.6M73.3 479.7L75.9 497.1M76.2 478.5L78.9 495.9M79.2 477.3L82.0 494.6M82.1 476.1L85.0 493.3M44.0 490.0L45.4 507.6M47.0 489.0L48.5 506.7M49.9 488.0L51.5 505.7M52.8 487.1L54.6 504.8" stroke-width="1.35"/>
<path d="M67.5 563.4L65.3 544.6M70.9 562.2L68.7 543.5M74.3 561.0L72.0 542.3M77.8 559.7L75.3 541.0M81.2 558.3L77.8 533.9M84.7 556.9L82.0 538.4M88.2 555.4L85.3 536.9M91.6 553.8L88.6 535.4M95.0 552.1L91.9 533.9M50.2 568.1L48.7 549.4M53.6 567.2L52.0 548.5M57.1 566.3L55.4 547.6M60.5 565.4L58.7 546.6" stroke-width="1.23"/>
<path d="M87.8 473.6L90.8 490.7M90.5 472.4L93.5 489.4M93.3 471.1L96.3 488.1M96.1 469.7L99.0 486.7M98.9 468.4L102.8 491.4M101.7 466.9L104.5 483.9M104.4 465.5L107.2 482.4M107.2 464.0L109.9 480.9M110.0 462.4L112.7 479.3" stroke-width="1.28"/>
<path d="M101.1 549.1L97.9 531.0M103.7 547.7L100.5 529.6M106.3 546.3L103.2 528.2M108.9 544.8L105.8 526.8M111.5 543.4L107.5 519.7M114.1 541.9L111.1 523.9M116.7 540.4L113.8 522.4M119.3 538.8L116.4 520.8M121.9 537.2L119.0 519.3" stroke-width="1.17"/>
<path d="M115.5 459.1L118.1 476.0M118.2 457.4L120.9 474.3M120.9 455.6L123.6 472.5M123.7 453.7L126.4 470.6M126.4 451.8L130.1 474.8M129.1 449.7L131.9 466.7M131.8 447.6L134.6 464.6M134.6 445.4L137.3 462.5M137.3 443.1L140.1 460.3" stroke-width="1.25"/>
<path d="M127.3 533.9L124.5 515.9M130.1 532.1L127.2 514.2M132.9 530.3L130.0 512.4M135.7 528.5L132.8 510.5M138.5 526.7L134.7 503.1M141.3 524.8L138.4 506.8M144.1 522.9L141.2 504.8M146.9 521.0L143.9 502.8M149.7 519.0L146.7 500.8" stroke-width="1.14"/>
<path d="M142.1 438.9L144.8 456.3M144.2 437.1L146.8 454.5M146.2 435.2L148.8 452.8M148.3 433.3L150.8 451.0M150.4 431.3L153.6 455.5M152.4 429.4L154.7 447.3M154.5 427.4L156.7 445.4M156.6 425.5L158.7 443.6M158.7 423.5L160.7 441.7M163.0 419.5L164.8 437.8M165.2 417.5L166.9 435.8M167.4 415.5L169.0 433.8M169.7 413.5L171.2 431.8M171.9 411.6L173.8 436.4M174.1 409.7L175.4 428.0M176.3 407.9L177.5 426.1M178.6 406.1L179.7 424.3M180.8 404.4L181.8 422.5M687.9 376.8L689.7 395.1M689.8 378.3L691.7 396.5M691.7 379.7L693.7 397.8M693.6 381.2L695.7 399.1M695.5 382.6L698.5 406.8M697.4 384.0L699.7 401.6M699.3 385.3L701.7 402.8M701.2 386.6L703.7 403.9M703.1 387.8L705.7 405.0M707.2 390.3L709.8 405.4M709.4 391.6L712.0 406.4M711.6 392.7L714.3 407.4M713.8 393.8L716.6 408.3M716.0 394.9L719.8 414.3M718.2 395.7L721.1 409.9M720.4 396.4L723.4 410.5M722.6 396.9L725.6 410.9M724.8 397.3L727.9 411.4" stroke-width="1.05"/>
<path d="M154.2 515.6L151.3 497.2M155.9 514.3L153.0 495.8M157.5 513.0L154.8 494.3M159.2 511.6L156.6 492.8M160.9 510.2L157.6 485.3M162.6 508.7L160.1 489.6M164.3 507.1L161.9 488.0M165.9 505.6L163.7 486.3M167.6 503.9L165.5 484.6M171.1 500.3L169.1 480.9M172.8 498.4L171.0 479.0M174.6 496.4L172.9 477.0M176.4 494.4L174.8 475.0M178.2 492.4L176.2 466.9M179.9 490.3L178.5 471.0M181.7 488.3L180.4 469.0M183.5 486.4L182.3 467.1M185.2 484.4L184.2 465.2M694.3 443.1L692.8 427.2M696.6 444.3L695.0 428.4M698.9 445.3L697.2 429.6M701.2 446.3L699.4 430.7M703.5 447.2L701.0 426.8M705.8 448.0L703.8 432.6M708.1 448.8L706.0 433.5M710.4 449.4L708.2 434.3M712.7 450.0L710.4 435.0M717.5 450.9L715.0 436.4M719.9 451.3L717.4 437.0M722.4 451.7L719.8 437.5M724.9 452.0L722.2 438.0M727.4 452.3L723.8 434.2M729.8 452.6L727.0 439.0M732.3 453.0L729.4 439.4M734.8 453.4L731.8 439.8M737.2 453.9L734.2 440.3" stroke-width="1.00"/>
<path d="M185.7 400.8L186.5 418.7M188.3 399.0L189.2 416.7M191.0 397.2L191.8 414.9M193.6 395.5L194.4 413.0M196.3 393.9L197.3 417.6M199.0 392.3L199.6 409.7M201.6 390.8L202.3 408.1M204.3 389.3L204.9 406.6M206.9 387.9L207.5 405.1" stroke-width="1.22"/>
<path d="M189.5 480.0L188.6 461.0M192.0 477.6L191.1 458.7M194.5 475.3L193.7 456.5M197.0 473.1L196.2 454.5M199.5 471.1L198.5 446.8M202.0 469.2L201.3 450.8M204.5 467.4L203.8 449.0M207.0 465.7L206.3 447.4M209.5 464.1L208.9 445.8" stroke-width="1.12"/>
<path d="M213.0 385.0L213.5 402.1M216.3 383.4L216.9 400.5M219.7 382.0L220.3 399.0M223.0 380.6L223.7 397.5M226.4 379.3L227.3 402.2M229.8 378.0L230.4 394.9M233.1 376.8L233.8 393.6M236.5 375.7L237.2 392.4M239.8 374.5L240.6 391.3M317.2 356.4L317.6 373.6M320.5 355.7L320.9 372.9M323.9 355.0L324.3 372.3M327.2 354.4L327.7 371.7M330.6 353.7L331.2 377.2M334.0 353.1L334.4 370.4M337.3 352.5L337.8 369.8M340.7 351.8L341.2 369.2M344.0 351.2L344.5 368.6" stroke-width="1.55"/>
<path d="M215.4 460.6L214.9 442.5M218.9 458.8L218.3 440.7M222.3 457.1L221.7 439.0M225.8 455.4L225.1 437.5M229.2 453.9L228.4 430.4M232.7 452.5L232.0 434.6M236.2 451.2L235.4 433.3M239.6 450.0L238.9 432.1M243.1 448.8L242.3 431.0M318.9 432.6L318.5 414.3M322.3 432.0L321.9 413.7M325.7 431.5L325.3 413.1M329.1 430.9L328.7 412.5M332.6 430.3L331.9 406.2M336.0 429.8L335.5 411.4M339.4 429.2L338.9 410.8M342.8 428.7L342.3 410.2M346.2 428.1L345.7 409.7M423.4 416.8L422.2 398.6M426.8 416.3L425.6 398.2M430.2 415.9L429.0 397.7M433.6 415.4L432.4 397.3M437.0 415.0L435.3 391.3M440.4 414.5L439.1 396.5M443.8 414.1L442.5 396.1M447.2 413.7L445.9 395.7M450.6 413.3L449.3 395.3M612.2 404.2L610.5 387.5M616.0 404.9L614.1 388.1M619.8 405.7L617.8 388.9M623.5 406.5L621.4 389.8M627.2 407.5L624.4 385.5M631.0 408.6L628.7 391.9M634.8 409.9L632.4 393.1M638.5 411.3L636.1 394.4M642.2 412.8L639.7 395.8" stroke-width="1.41"/>
<path d="M246.8 372.4L247.5 389.2M250.3 371.4L251.0 388.2M253.8 370.4L254.5 387.2M257.4 369.4L258.0 386.3M260.9 368.5L261.8 391.4M264.5 367.6L265.1 384.5M268.1 366.8L268.6 383.7M271.6 365.9L272.1 382.8M275.1 365.1L275.7 382.0" stroke-width="1.63"/>
<path d="M249.9 446.6L249.2 428.8M253.4 445.7L252.6 427.8M256.8 444.7L256.1 426.9M260.2 443.9L259.5 426.0M263.6 443.0L262.8 419.6M267.1 442.2L266.5 424.3M270.5 441.5L269.9 423.5M273.9 440.7L273.4 422.8M277.4 440.0L276.8 422.1" stroke-width="1.49"/>
<path d="M282.2 363.6L282.7 380.5M285.7 362.8L286.2 379.8M289.2 362.1L289.7 379.1M292.7 361.3L293.2 378.4M296.2 360.6L296.8 383.8M299.8 359.9L300.2 377.0M303.3 359.2L303.7 376.3M306.8 358.5L307.2 375.6M310.3 357.7L310.7 374.9" stroke-width="1.61"/>
<path d="M284.3 438.7L283.8 420.7M287.7 438.0L287.3 420.0M291.2 437.4L290.7 419.3M294.7 436.8L294.2 418.7M298.1 436.2L297.6 412.4M301.6 435.6L301.2 417.4M305.1 435.0L304.7 416.8M308.6 434.4L308.1 416.1M312.0 433.8L311.6 415.5" stroke-width="1.47"/>
<path d="M350.8 350.0L351.4 367.4M354.2 349.4L354.9 366.8M357.7 348.8L358.3 366.2M361.1 348.3L361.8 365.7M364.5 347.7L365.6 371.4M367.9 347.2L368.8 364.6M371.3 346.7L372.2 364.0M374.8 346.2L375.7 363.5M378.2 345.7L379.2 363.0" stroke-width="1.57"/>
<path d="M353.3 427.0L352.7 408.5M357.0 426.4L356.3 407.9M360.6 425.8L359.9 407.4M364.3 425.3L363.5 406.8M368.0 424.7L366.9 400.4M371.7 424.1L370.8 405.7M375.4 423.6L374.4 405.1M379.0 423.0L378.0 404.6M382.7 422.5L381.6 404.0" stroke-width="1.44"/>
<path d="M384.9 344.7L386.0 362.1M388.3 344.3L389.4 361.6M391.6 343.9L392.7 361.2M395.0 343.5L396.1 360.8M398.3 343.1L399.8 366.6M401.6 342.7L402.8 360.0M405.0 342.4L406.1 359.6M408.3 342.0L409.4 359.2M411.7 341.6L412.8 358.8M418.4 341.0L419.5 358.1M421.7 340.6L422.9 357.7M425.1 340.3L426.2 357.4M428.4 340.0L429.6 357.0M431.8 339.7L433.4 362.8M435.1 339.4L436.3 356.4M438.4 339.1L439.7 356.0M441.8 338.8L443.0 355.7M445.1 338.5L446.4 355.4M604.9 334.5L606.5 350.2M608.2 335.2L610.0 350.9M611.5 335.9L613.4 351.7M614.9 336.8L616.8 352.5M618.2 337.7L621.0 359.1M621.6 338.7L623.7 354.5M625.0 339.7L627.2 355.6M628.3 340.9L630.6 356.8M631.6 342.1L634.0 358.1" stroke-width="1.54"/>
<path d="M389.8 421.5L388.6 403.0M393.1 421.0L392.0 402.6M396.5 420.5L395.3 402.1M399.8 420.0L398.7 401.6M403.2 419.5L401.7 395.5M406.6 419.1L405.4 400.7M409.9 418.6L408.7 400.3M413.3 418.1L412.1 399.9M416.6 417.7L415.4 399.4" stroke-width="1.40"/>
<path d="M451.9 337.9L453.2 354.7M455.4 337.5L456.8 354.4M458.9 337.2L460.3 354.0M462.3 336.9L463.8 353.7M465.8 336.6L467.8 359.3M469.2 336.3L470.8 353.0M472.6 335.9L474.3 352.6M476.1 335.6L477.8 352.3M479.6 335.3L481.3 351.9" stroke-width="1.59"/>
<path d="M457.7 412.4L456.3 394.5M461.4 412.0L460.0 394.1M465.1 411.5L463.6 393.7M468.8 411.1L467.2 393.3M472.5 410.6L470.4 387.3M476.2 410.2L474.5 392.5M479.9 409.8L478.2 392.1M483.6 409.4L481.8 391.7M487.3 409.0L485.4 391.3" stroke-width="1.45"/>
<path d="M486.8 334.6L488.7 351.2M490.6 334.2L492.5 350.8M494.4 333.8L496.4 350.4M498.2 333.5L500.3 350.1M502.0 333.1L504.9 355.6M505.8 332.8L508.0 349.3M509.6 332.5L511.9 349.0M513.4 332.2L515.8 348.7M517.2 331.9L519.6 348.3" stroke-width="1.75"/>
<path d="M495.1 408.1L493.1 390.5M499.2 407.7L497.1 390.1M503.3 407.3L501.2 389.6M507.4 406.8L505.2 389.2M511.5 406.4L508.5 383.3M515.6 406.0L513.2 388.4M519.7 405.6L517.3 388.0M523.8 405.2L521.3 387.7M527.9 404.8L525.3 387.3" stroke-width="1.60"/>
<path d="M525.0 331.3L527.4 347.8M528.9 331.1L531.2 347.5M532.9 330.9L535.1 347.3M536.8 330.7L539.0 347.0M540.8 330.5L543.6 352.7M544.7 330.4L546.8 346.7M548.6 330.3L550.6 346.6M552.6 330.3L554.5 346.5M556.5 330.2L558.4 346.5" stroke-width="1.82"/>
<path d="M535.6 404.1L533.1 386.6M539.3 403.7L536.8 386.3M542.9 403.4L540.5 386.0M546.5 403.1L544.2 385.7M550.1 402.9L547.2 380.1M553.8 402.6L551.6 385.3M557.4 402.4L555.3 385.1M561.0 402.2L559.0 384.9M564.7 402.0L562.7 384.8" stroke-width="1.66"/>
<path d="M564.6 330.4L566.3 346.5M568.7 330.5L570.4 346.6M572.8 330.7L574.5 346.7M576.9 330.9L578.6 346.9M581.0 331.2L583.3 352.9M585.1 331.6L586.8 347.5M589.2 332.0L590.8 347.9M593.3 332.6L594.9 348.4M597.4 333.2L599.0 349.0" stroke-width="1.89"/>
<path d="M572.3 401.7L570.5 384.6M576.3 401.7L574.5 384.6M580.4 401.7L578.5 384.6M584.4 401.7L582.6 384.7M588.4 401.8L586.1 379.6M592.4 402.0L590.7 385.1M596.4 402.3L594.7 385.4M600.5 402.6L598.7 385.8M604.5 403.1L602.8 386.3" stroke-width="1.72"/>
<path d="M637.7 344.6L640.4 362.6M640.4 345.8L643.0 363.8M643.1 347.0L645.7 365.0M645.8 348.3L648.3 366.4M648.5 349.7L651.8 374.2M651.2 351.2L653.5 369.2M653.9 352.7L656.2 370.7M656.6 354.2L658.8 372.2M659.3 355.8L661.4 373.8" stroke-width="1.24"/>
<path d="M648.4 415.6L645.8 398.6M650.8 416.8L648.3 399.8M653.2 418.1L650.8 401.1M655.6 419.5L653.2 402.4M658.0 420.9L655.0 398.5M660.4 422.3L658.2 405.2M662.8 423.8L660.7 406.7M665.2 425.3L663.1 408.3M667.6 426.9L665.6 409.8" stroke-width="1.13"/>
<path d="M664.4 359.1L666.6 378.6M666.8 360.7L668.9 380.2M669.2 362.4L671.2 381.8M671.6 364.2L673.6 383.4M674.0 365.9L676.6 392.0M676.4 367.8L678.3 386.8M678.8 369.6L680.6 388.5M681.2 371.5L683.0 390.3M683.6 373.4L685.3 392.0" stroke-width="1.10"/>
<path d="M672.2 429.9L670.3 412.9M674.4 431.3L672.6 414.4M676.6 432.7L674.8 415.8M678.8 434.1L677.1 417.3M681.0 435.5L678.8 413.6M683.2 436.9L681.6 420.3M685.4 438.2L683.8 421.7M687.6 439.5L686.1 423.2M689.8 440.7L688.3 424.6" stroke-width="1.01"/>
<path d="M55.8 486.1L64.0 564.5M85.0 474.9L98.5 550.4M112.8 460.7L124.5 535.6M140.0 440.8L152.5 516.9M160.8 421.6L169.3 502.2M183.0 402.8L187.0 482.5M209.6 386.6L212.0 462.6M243.2 373.5L246.5 447.7M278.7 364.3L280.8 439.3M313.8 357.0L315.5 433.2M347.4 350.6L349.6 427.6M381.6 345.2L386.4 421.9M415.0 341.3L420.0 417.2M448.5 338.2L454.0 412.9M483.0 334.9L491.0 408.6M521.0 331.6L532.0 404.4M560.5 330.3L568.3 401.8M601.5 333.8L608.5 403.6M635.0 343.5L646.0 414.5M662.0 357.5L670.0 428.4M686.0 375.3L692.0 441.9M705.0 389.0L715.0 450.5" stroke-width="1.45"/>
</g>
<path d="M48.20 488.60C49.50 488.17 53.39 486.89 55.99 486.00C58.59 485.11 61.19 484.19 63.78 483.25C66.37 482.31 68.96 481.35 71.53 480.36C74.11 479.36 76.68 478.35 79.23 477.30C81.78 476.24 84.33 475.16 86.85 474.04C89.37 472.92 91.88 471.77 94.36 470.58C96.85 469.39 99.31 468.16 101.75 466.89C104.19 465.62 106.60 464.31 108.98 462.95C111.37 461.59 113.72 460.18 116.05 458.73C118.37 457.27 120.66 455.77 122.91 454.22C125.16 452.66 127.38 451.05 129.55 449.39C131.73 447.73 133.86 446.00 135.96 444.25C138.07 442.49 140.13 440.67 142.19 438.85C144.24 437.02 146.27 435.14 148.29 433.27C150.31 431.40 152.32 429.50 154.33 427.61C156.34 425.72 158.34 423.82 160.36 421.94C162.39 420.06 164.41 418.19 166.46 416.35C168.51 414.51 170.58 412.69 172.68 410.92C174.78 409.15 176.91 407.41 179.08 405.73C181.24 404.05 183.44 402.41 185.67 400.83C187.91 399.25 190.17 397.72 192.47 396.24C194.77 394.77 197.10 393.35 199.46 391.99C201.82 390.63 204.21 389.33 206.63 388.08C209.05 386.84 211.50 385.65 213.97 384.51C216.44 383.37 218.95 382.29 221.47 381.24C223.99 380.20 226.54 379.21 229.10 378.26C231.67 377.31 234.26 376.40 236.86 375.53C239.46 374.65 242.09 373.82 244.72 373.02C247.36 372.22 250.01 371.46 252.67 370.72C255.34 369.98 258.01 369.27 260.70 368.58C263.38 367.90 266.08 367.24 268.78 366.60C271.48 365.95 274.18 365.34 276.89 364.73C279.60 364.12 282.32 363.53 285.04 362.95C287.75 362.37 290.47 361.81 293.19 361.24C295.90 360.68 298.61 360.12 301.32 359.57C304.03 359.02 306.74 358.46 309.44 357.92C312.15 357.37 314.84 356.83 317.54 356.29C320.24 355.75 322.94 355.22 325.63 354.69C328.32 354.17 331.02 353.65 333.71 353.14C336.40 352.63 339.09 352.12 341.78 351.63C344.48 351.14 347.17 350.65 349.86 350.18C352.55 349.71 355.25 349.24 357.95 348.79C360.64 348.34 363.34 347.90 366.04 347.48C368.74 347.06 371.45 346.64 374.15 346.25C376.86 345.85 379.57 345.47 382.29 345.10C385.00 344.73 387.72 344.38 390.44 344.04C393.17 343.70 395.89 343.38 398.62 343.06C401.35 342.75 404.08 342.45 406.82 342.15C409.55 341.86 412.29 341.57 415.03 341.30C417.77 341.02 420.51 340.75 423.26 340.49C426.00 340.22 428.74 339.97 431.49 339.71C434.23 339.46 436.98 339.21 439.73 338.96C442.48 338.71 445.22 338.46 447.97 338.22C450.72 337.97 453.47 337.72 456.22 337.47C458.96 337.22 461.71 336.97 464.46 336.72C467.20 336.46 469.95 336.21 472.69 335.94C475.44 335.68 478.18 335.41 480.92 335.14C483.66 334.88 486.40 334.61 489.14 334.34C491.88 334.08 494.62 333.81 497.36 333.56C500.10 333.30 502.84 333.05 505.58 332.81C508.31 332.57 511.05 332.34 513.79 332.12C516.53 331.90 519.26 331.70 522.00 331.51C524.74 331.32 527.48 331.14 530.22 330.99C532.96 330.84 535.69 330.71 538.43 330.60C541.17 330.49 543.91 330.40 546.65 330.34C549.40 330.28 552.14 330.25 554.88 330.25C557.62 330.24 560.37 330.27 563.11 330.33C565.86 330.39 568.61 330.48 571.35 330.61C574.10 330.74 576.85 330.91 579.60 331.12C582.34 331.33 585.09 331.58 587.83 331.89C590.56 332.19 593.30 332.54 596.02 332.95C598.75 333.36 601.46 333.82 604.16 334.34C606.87 334.87 609.56 335.45 612.23 336.10C614.90 336.75 617.56 337.47 620.20 338.25C622.84 339.04 625.46 339.89 628.05 340.81C630.64 341.73 633.21 342.71 635.75 343.77C638.29 344.82 640.80 345.94 643.29 347.12C645.77 348.30 648.23 349.55 650.65 350.86C653.07 352.16 655.47 353.53 657.83 354.95C660.19 356.37 662.52 357.86 664.81 359.39C667.11 360.92 669.36 362.52 671.59 364.15C673.82 365.78 676.01 367.48 678.19 369.17C680.38 370.85 682.53 372.59 684.70 374.29C686.86 375.98 689.01 377.70 691.19 379.35C693.37 381.01 695.54 382.65 697.76 384.21C699.98 385.77 702.21 387.29 704.50 388.70C706.79 390.11 709.11 391.46 711.49 392.67C713.88 393.88 716.25 395.12 718.83 395.95C721.42 396.79 725.64 397.41 727.00 397.70" fill="none" stroke="#000" stroke-width="2.05"/>
<path d="M48.20 568.60C49.55 568.26 53.62 567.26 56.31 566.55C59.01 565.84 61.71 565.15 64.38 564.35C67.05 563.55 69.69 562.68 72.32 561.75C74.94 560.82 77.55 559.83 80.14 558.79C82.72 557.75 85.29 556.65 87.84 555.51C90.38 554.36 92.91 553.17 95.42 551.94C97.93 550.71 100.42 549.43 102.89 548.12C105.36 546.81 107.81 545.46 110.25 544.09C112.68 542.71 115.10 541.31 117.50 539.88C119.90 538.46 122.28 537.00 124.64 535.54C127.01 534.07 129.35 532.58 131.69 531.09C134.02 529.59 136.33 528.09 138.63 526.58C140.92 525.06 143.21 523.54 145.46 521.98C147.71 520.41 149.94 518.83 152.14 517.19C154.33 515.54 156.50 513.86 158.62 512.09C160.75 510.32 162.84 508.50 164.88 506.57C166.91 504.65 168.90 502.62 170.86 500.54C172.82 498.46 174.72 496.26 176.64 494.09C178.56 491.93 180.45 489.70 182.39 487.55C184.32 485.41 186.25 483.25 188.25 481.22C190.25 479.19 192.29 477.23 194.39 475.38C196.49 473.53 198.64 471.77 200.83 470.11C203.03 468.44 205.28 466.87 207.56 465.37C209.85 463.87 212.19 462.46 214.56 461.12C216.93 459.78 219.34 458.52 221.79 457.33C224.23 456.13 226.72 455.01 229.23 453.95C231.75 452.88 234.29 451.88 236.87 450.94C239.44 449.99 242.05 449.10 244.67 448.26C247.30 447.42 249.95 446.63 252.62 445.88C255.29 445.12 257.98 444.42 260.69 443.75C263.39 443.07 266.12 442.44 268.85 441.83C271.59 441.22 274.33 440.64 277.09 440.08C279.84 439.53 282.61 439.00 285.38 438.47C288.14 437.95 290.92 437.46 293.69 436.96C296.46 436.46 299.24 435.98 302.01 435.50C304.77 435.01 307.54 434.54 310.31 434.06C313.07 433.59 315.83 433.12 318.60 432.65C321.36 432.18 324.11 431.72 326.87 431.26C329.63 430.80 332.38 430.35 335.14 429.90C337.89 429.45 340.64 429.00 343.39 428.56C346.14 428.11 348.89 427.68 351.64 427.24C354.39 426.81 357.13 426.37 359.88 425.95C362.62 425.52 365.37 425.10 368.11 424.68C370.86 424.26 373.60 423.84 376.34 423.43C379.09 423.02 381.83 422.61 384.57 422.21C387.31 421.81 390.05 421.41 392.80 421.01C395.54 420.62 398.28 420.23 401.02 419.84C403.76 419.45 406.51 419.07 409.25 418.69C411.99 418.31 414.74 417.93 417.48 417.56C420.23 417.19 422.97 416.82 425.72 416.46C428.46 416.09 431.21 415.73 433.96 415.38C436.71 415.02 439.45 414.67 442.20 414.32C444.96 413.97 447.71 413.63 450.46 413.29C453.21 412.95 455.97 412.61 458.73 412.28C461.48 411.94 464.24 411.61 467.00 411.29C469.77 410.96 472.53 410.64 475.29 410.33C478.06 410.01 480.83 409.70 483.60 409.39C486.37 409.08 489.14 408.77 491.92 408.47C494.69 408.17 497.47 407.87 500.25 407.58C503.04 407.29 505.82 407.00 508.61 406.71C511.40 406.43 514.19 406.14 516.98 405.87C519.78 405.59 522.58 405.31 525.38 405.04C528.18 404.77 530.99 404.50 533.80 404.25C536.60 403.99 539.42 403.73 542.23 403.49C545.04 403.25 547.86 403.02 550.67 402.81C553.48 402.61 556.30 402.42 559.11 402.26C561.91 402.10 564.72 401.96 567.52 401.86C570.32 401.76 573.12 401.69 575.91 401.67C578.69 401.64 581.48 401.65 584.25 401.71C587.02 401.77 589.78 401.87 592.54 402.03C595.29 402.19 598.03 402.40 600.76 402.67C603.48 402.94 606.20 403.27 608.90 403.67C611.60 404.07 614.28 404.52 616.95 405.06C619.61 405.60 622.26 406.20 624.89 406.89C627.52 407.58 630.14 408.35 632.73 409.20C635.31 410.06 637.88 410.99 640.43 412.03C642.97 413.06 645.50 414.19 647.99 415.41C650.49 416.63 652.96 417.97 655.41 419.37C657.86 420.76 660.29 422.25 662.71 423.76C665.14 425.27 667.55 426.84 669.96 428.40C672.37 429.95 674.77 431.55 677.19 433.09C679.60 434.62 682.02 436.17 684.45 437.63C686.89 439.08 689.33 440.51 691.81 441.82C694.28 443.13 696.77 444.39 699.29 445.48C701.82 446.58 704.37 447.59 706.97 448.41C709.57 449.24 712.20 449.88 714.88 450.44C717.55 450.99 720.27 451.35 723.01 451.75C725.75 452.15 728.54 452.41 731.32 452.84C734.10 453.26 738.30 454.06 739.70 454.30" fill="none" stroke="#000" stroke-width="2.05"/>
<path d="M727.00 397.70L739.70 454.30" stroke="#000" stroke-width="2.70" stroke-linecap="round"/>
<path d="M647.5 383.9L659.9 391.4L649.8 379L651.6 388.8" fill="none" stroke="#111" stroke-width="1.35" stroke-linecap="round" stroke-linejoin="round"/>
<path d="M670.4 392.9C670.6 397 671 399.5 672.5 400.6C674 401.8 676.2 400.8 676.75 398.3C677 401.5 677.8 404 679.5 405.3C681.5 406.6 682.4 403 680.9 400.2" fill="none" stroke="#111" stroke-width="1.35" stroke-linecap="round" stroke-linejoin="round"/>
<path d="M696.3 417.5L695.1 410C699 414 703 418 705 419.9C706.6 421 707.4 419 706.2 417.2" fill="none" stroke="#111" stroke-width="1.35" stroke-linecap="round" stroke-linejoin="round"/>
<path d="M715 425L725.9 427.6L722.9 424.6" fill="none" stroke="#111" stroke-width="1.35" stroke-linecap="round" stroke-linejoin="round"/>
<path d="M118.6 547.5Q111.5 566 98.5 579.3Q105.5 576.6 110.9 575.9L93.6 658.9 L98.2 660L115.7 576.9Q119.8 578.3 124.7 584.2Q118.8 567 118.6 547.5Z" fill="#9b9b9b"/>
<text x="242.30" y="100.80" textLength="347.70" lengthAdjust="spacingAndGlyphs" font-family="'Liberation Sans', sans-serif" font-size="23.80" fill="#222" stroke="#222" stroke-width="0.4">To measure the kippah size, use</text>
<text x="249.60" y="129.80" textLength="339.80" lengthAdjust="spacingAndGlyphs" font-family="'Liberation Sans', sans-serif" font-size="23.80" fill="#222" stroke="#222" stroke-width="0.4">tape along the top of the kippah</text>
<text x="53.70" y="688.40" textLength="122.00" lengthAdjust="spacingAndGlyphs" font-family="'Liberation Sans', sans-serif" font-size="23.80" fill="#222" stroke="#222" stroke-width="0.4">kippah size</text>
</svg>
</body></html>
